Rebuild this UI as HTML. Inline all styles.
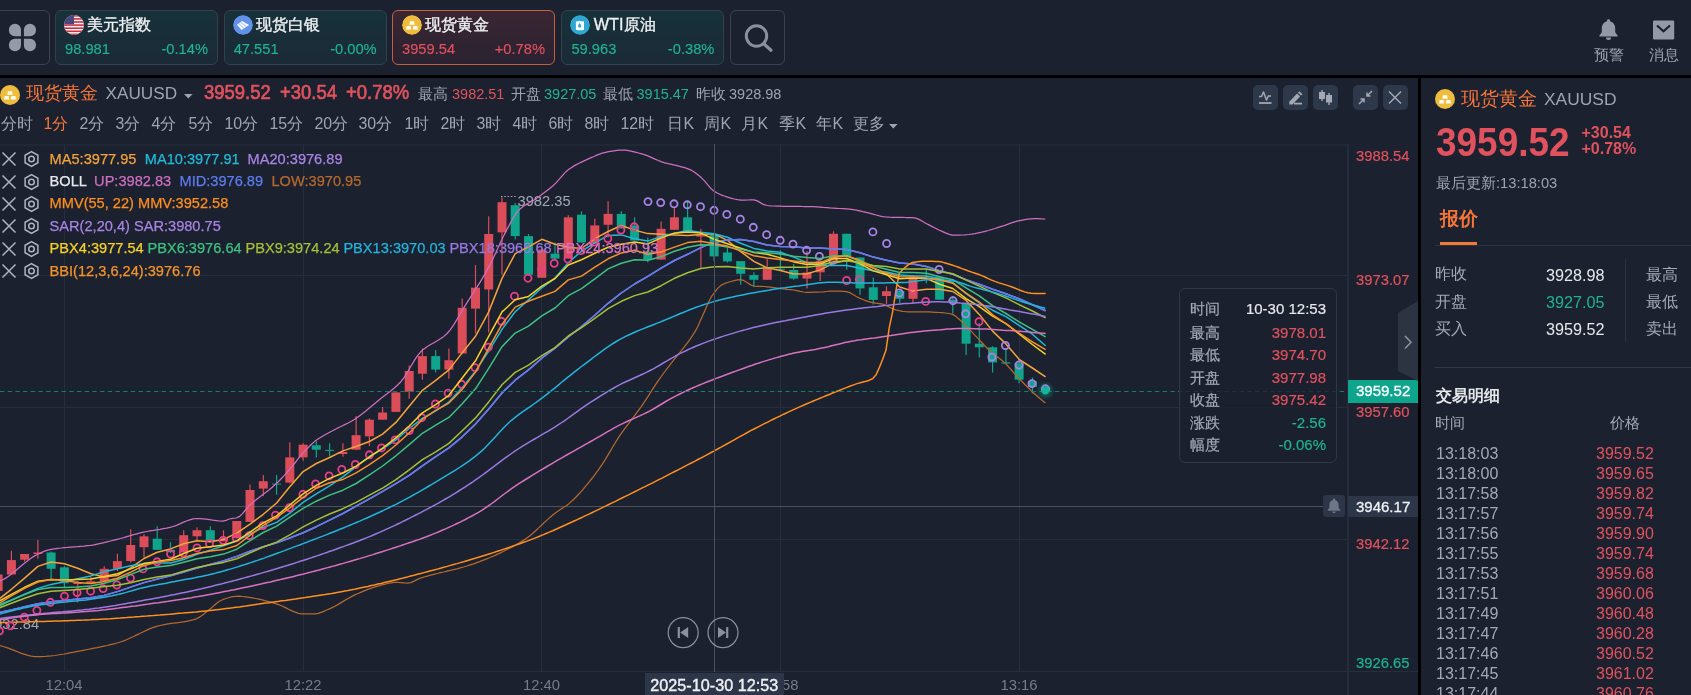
<!DOCTYPE html>
<html lang="zh"><head><meta charset="utf-8"><title>XAUUSD</title>
<style>
*{box-sizing:border-box;margin:0;padding:0}
html,body{width:1691px;height:695px;overflow:hidden;background:#1b212e}
body{font-family:"Liberation Sans",sans-serif;color:#9ea4b2;position:relative}
.a{position:absolute;white-space:nowrap}
.r{color:#e0525e}.g{color:#1fb393}.o{color:#f6763a}.w{color:#e6e8ec}.gy{color:#9ea4b2}
.top{left:0;top:0;width:1691px;height:75px;background:#1b212e}
.blk{background:#000}
.card{top:10px;width:163px;height:55px;border:1px solid #31424d;border-radius:6px;background:linear-gradient(180deg,#17313a 0%,#1b2a37 100%)}
.card.sel{border-color:#c4613c;background:linear-gradient(180deg,#3a2632 0%,#2a2231 100%)}
.card .t{left:31.3px;top:1px;height:24px;line-height:24px;font-size:16.3px;color:#eef0f3;-webkit-text-stroke:.35px}
.card .ic{left:8px;top:4px;width:20px;height:20px;border-radius:50%;overflow:hidden}
.card.sel .ic{left:9px}.card.sel .t{left:32px}
.card .v{left:9px;top:28px;height:20px;line-height:20px;font-size:14.7px;-webkit-text-stroke:.15px}
.card .p{right:9px;top:28px;height:20px;line-height:20px;font-size:14.7px;-webkit-text-stroke:.15px}
.btn{top:10px;height:55px;border:1px solid #3b4353;border-radius:6px}
.tf{top:113px;height:22px;line-height:22px;font-size:15.9px;color:#9ea4b2}
.tf.o{color:#f6763a}
.lg{height:22px;line-height:22px;font-size:14.6px;-webkit-text-stroke:.25px}
.ax{left:1356px;height:18px;line-height:18px;font-size:14.8px;-webkit-text-stroke:.2px}
.tl{top:676px;height:18px;line-height:18px;font-size:14.8px;color:#757c8c;transform:translateX(-50%)}
.tr{left:1436px;height:20px;line-height:20px;font-size:16px;color:#a4a9b6}
.tp{left:1596px;height:20px;line-height:20px;font-size:16px;color:#e0525e}
.tt{height:22px;line-height:22px;font-size:15px;-webkit-text-stroke:.2px}
#wrap{position:absolute;left:0;top:0;width:1691px;height:695px;will-change:transform}
</style></head><body><div id="wrap">
<div class="a blk" style="left:0;top:75px;width:1691px;height:3px"></div>
<div class="a blk" style="left:1418.2px;top:75px;width:2.6px;height:620px"></div>

<!-- top bar -->
<div class="a btn" style="left:-6px;width:56px"></div>
<svg class="a" style="left:0;top:0" width="50" height="70" viewBox="0 0 50 70"><g fill="#959aa7"><path d="M14.9 23.7 H15.0 A6.0 6.0 0 0 1 21.0 29.7 V36.3 A0.0 0.0 0 0 1 21.0 36.3 H14.9 A6.0 6.0 0 0 1 8.9 30.3 V29.7 A6.0 6.0 0 0 1 14.9 23.7 Z"/><path d="M29.9 23.7 H30.0 A6.0 6.0 0 0 1 36.0 29.7 V30.3 A6.0 6.0 0 0 1 30.0 36.3 H23.9 A0.0 0.0 0 0 1 23.9 36.3 V29.7 A6.0 6.0 0 0 1 29.9 23.7 Z"/><path d="M14.9 38.7 H21.0 A0.0 0.0 0 0 1 21.0 38.7 V45.3 A6.0 6.0 0 0 1 15.0 51.3 H14.9 A6.0 6.0 0 0 1 8.9 45.3 V44.7 A6.0 6.0 0 0 1 14.9 38.7 Z"/><path d="M23.9 38.7 H30.0 A6.0 6.0 0 0 1 36.0 44.7 V45.3 A6.0 6.0 0 0 1 30.0 51.3 H29.9 A6.0 6.0 0 0 1 23.9 45.3 V38.7 A0.0 0.0 0 0 1 23.9 38.7 Z"/></g></svg>

<div class="a card" style="left:55px">
 <div class="a ic"><svg width="20" height="20" viewBox="0 0 20 20"><rect width="20" height="20" fill="#f4f4f4"/><g fill="#cf2e44"><rect y="0" width="20" height="1.6"/><rect y="3.1" width="20" height="1.6"/><rect y="6.2" width="20" height="1.6"/><rect y="9.3" width="20" height="1.6"/><rect y="12.4" width="20" height="1.6"/><rect y="15.5" width="20" height="1.6"/><rect y="18.6" width="20" height="1.6"/></g><rect width="10" height="9.3" fill="#46487c"/></svg></div>
 <div class="a t">美元指数</div><div class="a v g">98.981</div><div class="a p g">-0.14%</div>
</div>
<div class="a card" style="left:223.7px">
 <div class="a ic"><svg width="20" height="20" viewBox="0 0 20 20"><circle cx="10" cy="10" r="10" fill="#6291e8"/><path d="M3.9 9.7L9.1 6.1l7.1 3.9-7.6 5z" fill="#f3f7ff"/><path d="M5.7 8.5l5.4 4.9M7.5 7.3l6.2 4.4" stroke="#8fb1ee" stroke-width=".8"/></svg></div>
 <div class="a t">现货白银</div><div class="a v g">47.551</div><div class="a p g">-0.00%</div>
</div>
<div class="a card sel" style="left:392px">
 <div class="a ic"><svg width="20" height="20" viewBox="0 0 20 20"><circle cx="10" cy="10" r="10" fill="#eebc3e"/><g fill="#fffdf0"><path d="M7.9 6.3h4.2l.6 3.5H7.3z"/><path d="M4.6 11.1h4l.6 3.3H4z"/><path d="M11.4 11.1h4l.6 3.3h-5.2z"/></g></svg></div>
 <div class="a t">现货黄金</div><div class="a v r">3959.54</div><div class="a p r">+0.78%</div>
</div>
<div class="a card" style="left:561.4px">
 <div class="a ic"><svg width="20" height="20" viewBox="0 0 20 20"><circle cx="10" cy="10" r="10" fill="#2ea8d0"/><path d="M5.9 6.5q4.05-1.1 8.1 0v8.2q-4.05 1.1-8.1 0z" fill="#fbfeff"/><path d="M9.7 7.9c1.1 1.5 1.6 2.3 1.6 3.2a1.6 1.6 0 0 1-3.2 0c0-.9.5-1.7 1.6-3.2z" fill="#2ea8d0"/></svg></div>
 <div class="a t">WTI原油</div><div class="a v g">59.963</div><div class="a p g">-0.38%</div>
</div>
<div class="a btn" style="left:730px;width:55px">
<svg class="a" style="left:11px;top:11px" width="32" height="32" viewBox="0 0 32 32"><circle cx="14.5" cy="14" r="10.2" fill="none" stroke="#8b909c" stroke-width="3"/><path d="M22 22l7 6.2" stroke="#8b909c" stroke-width="3.2" stroke-linecap="round"/></svg>
</div>

<!-- top right icons -->
<svg class="a" style="left:1596px;top:17px" width="25" height="25" viewBox="0 0 25 25"><path d="M12.5 2.2c-.9 0-1.6.7-1.6 1.6v.5C7.7 5.1 5.8 7.8 5.8 11v4.2L3.4 18.4v1h18.2v-1l-2.4-3.2V11c0-3.2-1.9-5.9-5.1-6.7v-.5c0-.9-.7-1.6-1.6-1.6z" fill="#9499a6"/><path d="M10 20.6a2.5 2.5 0 0 0 5 0z" fill="#9499a6"/></svg>
<div class="a gy" style="left:1594px;top:45px;height:20px;line-height:20px;font-size:14.6px">预警</div>
<svg class="a" style="left:1652px;top:19.7px" width="23" height="20" viewBox="0 0 23 20"><rect x="1" y=".5" width="21.2" height="19" rx="1.2" fill="#9499a6"/><path d="M5 5.5l6.5 5.8L18 5.5" fill="none" stroke="#1b212e" stroke-width="2.2"/></svg>
<div class="a gy" style="left:1649px;top:45px;height:20px;line-height:20px;font-size:14.6px">消息</div>

<!-- title row -->
<svg class="a" style="left:0;top:85px" width="20" height="20" viewBox="0 0 20 20"><circle cx="10" cy="10" r="10" fill="#eebc3e"/><g fill="#fffdf0"><path d="M7.9 6.3h4.2l.6 3.5H7.3z"/><path d="M4.6 11.1h4l.6 3.3H4z"/><path d="M11.4 11.1h4l.6 3.3h-5.2z"/></g></svg>
<div class="a o" style="left:25.5px;top:79.5px;height:26px;line-height:26px;font-size:18.3px">现货黄金</div>
<div class="a gy" style="left:105.5px;top:80px;height:26px;line-height:26px;font-size:17.2px">XAUUSD</div>
<svg class="a" style="left:183.5px;top:93.5px" width="9" height="6" viewBox="0 0 9 6"><path d="M0 0h8.6L4.3 4.6z" fill="#9ea4b2"/></svg>
<div class="a r" style="left:204px;top:79px;height:26px;line-height:26px;font-size:20.4px;-webkit-text-stroke:.7px;transform-origin:0 50%;transform:scaleX(.905)">3959.52</div>
<div class="a r" style="left:279.5px;top:79px;height:26px;line-height:26px;font-size:20.4px;-webkit-text-stroke:.7px;transform-origin:0 50%;transform:scaleX(.905)">+30.54</div>
<div class="a r" style="left:345.5px;top:79px;height:26px;line-height:26px;font-size:20.4px;-webkit-text-stroke:.7px;transform-origin:0 50%;transform:scaleX(.905)">+0.78%</div>
<div class="a gy" style="left:418px;top:83px;height:22px;line-height:22px;font-size:14.6px">最高</div>
<div class="a r" style="left:452px;top:83px;height:22px;line-height:22px;font-size:14.5px">3982.51</div>
<div class="a gy" style="left:510.5px;top:83px;height:22px;line-height:22px;font-size:14.6px">开盘</div>
<div class="a g" style="left:544px;top:83px;height:22px;line-height:22px;font-size:14.5px">3927.05</div>
<div class="a gy" style="left:603px;top:83px;height:22px;line-height:22px;font-size:14.6px">最低</div>
<div class="a g" style="left:636.5px;top:83px;height:22px;line-height:22px;font-size:14.5px">3915.47</div>
<div class="a gy" style="left:695.5px;top:83px;height:22px;line-height:22px;font-size:14.6px">昨收</div>
<div class="a gy" style="left:729px;top:83px;height:22px;line-height:22px;font-size:14.5px">3928.98</div>

<!-- toolbar buttons -->
<div class="a" style="left:1253px;top:85px;width:25px;height:25px;border-radius:5px;background:#2d384b"><svg width="24" height="25" viewBox="0 0 24 25"><path d="M6 11.5h2.5l2-4.5 3 8 1.8-4h2.7" fill="none" stroke="#a3a8b5" stroke-width="1.5" stroke-linejoin="round"/><path d="M6 18h12.5" stroke="#a3a8b5" stroke-width="1.8"/></svg></div>
<div class="a" style="left:1283px;top:85px;width:25px;height:25px;border-radius:5px;background:#2d384b"><svg width="24" height="25" viewBox="0 0 24 25"><path d="M6.3 16.8l7.8-8.2 3 2.9-7.6 7.9H6.3z" fill="#a3a8b5"/><path d="M15 7.7l1.4-1.4 3 2.9-1.4 1.4z" fill="#a3a8b5"/><path d="M11 18.6h8" stroke="#a3a8b5" stroke-width="1.8"/></svg></div>
<div class="a" style="left:1313px;top:85px;width:25px;height:25px;border-radius:5px;background:#2d384b"><svg width="24" height="25" viewBox="0 0 24 25"><g fill="#a3a8b5"><rect x="8.3" y="5" width="1.4" height="11"/><rect x="6" y="7" width="6" height="7"/><rect x="15.3" y="8" width="1.4" height="12"/><rect x="13" y="10" width="6" height="7.5"/></g></svg></div>
<div class="a" style="left:1353px;top:85px;width:25px;height:25px;border-radius:5px;background:#2d384b"><svg width="25" height="25" viewBox="0 0 25 25"><g stroke="#a3a8b5" stroke-width="1.5" fill="none"><path d="M19 6l-5 5M14 7.5V11h3.5"/><path d="M6 19l5-5M11 17.5V14H7.5"/></g></svg></div>
<div class="a" style="left:1383px;top:85px;width:25px;height:25px;border-radius:5px;background:#2d384b"><svg width="24" height="25" viewBox="0 0 24 25"><path d="M6 6.5l12 12M18 6.5l-12 12" stroke="#a3a8b5" stroke-width="1.5"/></svg></div>

<div class="a tf" style="left:0.9px">分时</div>
<div class="a tf o" style="left:43.4px">1分</div>
<div class="a tf" style="left:79.4px">2分</div>
<div class="a tf" style="left:115.4px">3分</div>
<div class="a tf" style="left:151.4px">4分</div>
<div class="a tf" style="left:188.4px">5分</div>
<div class="a tf" style="left:224.4px">10分</div>
<div class="a tf" style="left:269.4px">15分</div>
<div class="a tf" style="left:314.4px">20分</div>
<div class="a tf" style="left:358.4px">30分</div>
<div class="a tf" style="left:404.4px">1时</div>
<div class="a tf" style="left:440.4px">2时</div>
<div class="a tf" style="left:476.4px">3时</div>
<div class="a tf" style="left:512.4px">4时</div>
<div class="a tf" style="left:548.4px">6时</div>
<div class="a tf" style="left:584.4px">8时</div>
<div class="a tf" style="left:620.4px">12时</div>
<div class="a tf" style="left:667.4px">日K</div>
<div class="a tf" style="left:704.4px">周K</div>
<div class="a tf" style="left:741.4px">月K</div>
<div class="a tf" style="left:779.4px">季K</div>
<div class="a tf" style="left:816.4px">年K</div>
<div class="a tf" style="left:853.4px">更多</div>
<svg class="a" style="left:888.6px;top:124.2px" width="9" height="6" viewBox="0 0 9 6"><path d="M0 0h8.6L4.3 4.5z" fill="#9ea4b2"/></svg>
<svg class="chart" width="1418" height="552" viewBox="0 143 1418 552" style="position:absolute;left:0;top:143px">
<line x1="0" x2="1347" y1="145" y2="145" stroke="#262e3d" stroke-width="1"/>
<line x1="0" x2="1347" y1="275.5" y2="275.5" stroke="#262e3d" stroke-width="1"/>
<line x1="0" x2="1347" y1="407.5" y2="407.5" stroke="#262e3d" stroke-width="1"/>
<line x1="0" x2="1347" y1="539.5" y2="539.5" stroke="#262e3d" stroke-width="1"/>
<line x1="64.5" x2="64.5" y1="144" y2="672" stroke="#262e3d" stroke-width="1"/>
<line x1="303.5" x2="303.5" y1="144" y2="672" stroke="#262e3d" stroke-width="1"/>
<line x1="541.5" x2="541.5" y1="144" y2="672" stroke="#262e3d" stroke-width="1"/>
<line x1="780.5" x2="780.5" y1="144" y2="672" stroke="#262e3d" stroke-width="1"/>
<line x1="1019.5" x2="1019.5" y1="144" y2="672" stroke="#262e3d" stroke-width="1"/>
<line x1="0" x2="1418" y1="671.5" y2="671.5" stroke="#262e3d"/>
<line x1="1348" x2="1348" y1="144" y2="695" stroke="#263042" stroke-width="1.6"/>
<line x1="0" x2="1323" y1="506.5" y2="506.5" stroke="#4a5160"/>
<line x1="-1.9" x2="-1.9" y1="574.5" y2="619.8" stroke="#db4d58" stroke-width="1.2"/>
<rect x="-6.4" y="574.5" width="9" height="16.5" fill="#db4d58"/>
<line x1="11.4" x2="11.4" y1="550.8" y2="574.5" stroke="#db4d58" stroke-width="1.2"/>
<rect x="6.9" y="560.1" width="9" height="14.4" fill="#db4d58"/>
<line x1="24.6" x2="24.6" y1="554.0" y2="561.6" stroke="#db4d58" stroke-width="1.2"/>
<rect x="20.1" y="554.0" width="9" height="5.7" fill="#db4d58"/>
<line x1="37.9" x2="37.9" y1="540.0" y2="558.7" stroke="#db4d58" stroke-width="1.2"/>
<rect x="33.4" y="552.5" width="9" height="1.5" fill="#db4d58"/>
<line x1="51.1" x2="51.1" y1="551.4" y2="581.0" stroke="#0ea58c" stroke-width="1.2"/>
<rect x="46.6" y="552.5" width="9" height="16.3" fill="#0ea58c"/>
<line x1="64.4" x2="64.4" y1="566.0" y2="587.2" stroke="#0ea58c" stroke-width="1.2"/>
<rect x="59.9" y="567.3" width="9" height="15.9" fill="#0ea58c"/>
<line x1="77.7" x2="77.7" y1="581.0" y2="602.6" stroke="#db4d58" stroke-width="1.2"/>
<rect x="73.2" y="583.0" width="9" height="1.0" fill="#db4d58"/>
<line x1="90.9" x2="90.9" y1="576.7" y2="583.2" stroke="#db4d58" stroke-width="1.2"/>
<rect x="86.4" y="581.3" width="9" height="1.9" fill="#db4d58"/>
<line x1="104.2" x2="104.2" y1="566.2" y2="581.0" stroke="#db4d58" stroke-width="1.2"/>
<rect x="99.7" y="568.8" width="9" height="12.2" fill="#db4d58"/>
<line x1="117.4" x2="117.4" y1="553.7" y2="571.0" stroke="#db4d58" stroke-width="1.2"/>
<rect x="112.9" y="561.1" width="9" height="7.7" fill="#db4d58"/>
<line x1="130.7" x2="130.7" y1="529.2" y2="562.4" stroke="#db4d58" stroke-width="1.2"/>
<rect x="126.2" y="545.0" width="9" height="16.1" fill="#db4d58"/>
<line x1="144.0" x2="144.0" y1="534.2" y2="557.4" stroke="#db4d58" stroke-width="1.2"/>
<rect x="139.5" y="536.3" width="9" height="10.9" fill="#db4d58"/>
<line x1="157.2" x2="157.2" y1="526.2" y2="549.8" stroke="#0ea58c" stroke-width="1.2"/>
<rect x="152.7" y="538.7" width="9" height="11.1" fill="#0ea58c"/>
<line x1="170.5" x2="170.5" y1="542.2" y2="553.0" stroke="#0ea58c" stroke-width="1.2"/>
<rect x="166.0" y="549.8" width="9" height="2.4" fill="#0ea58c"/>
<line x1="183.7" x2="183.7" y1="530.2" y2="552.5" stroke="#db4d58" stroke-width="1.2"/>
<rect x="179.2" y="535.2" width="9" height="17.3" fill="#db4d58"/>
<line x1="197.0" x2="197.0" y1="527.2" y2="539.9" stroke="#db4d58" stroke-width="1.2"/>
<rect x="192.5" y="530.2" width="9" height="6.1" fill="#db4d58"/>
<line x1="210.3" x2="210.3" y1="526.2" y2="541.3" stroke="#0ea58c" stroke-width="1.2"/>
<rect x="205.8" y="530.2" width="9" height="11.1" fill="#0ea58c"/>
<line x1="223.5" x2="223.5" y1="530.2" y2="541.3" stroke="#db4d58" stroke-width="1.2"/>
<rect x="219.0" y="538.0" width="9" height="3.3" fill="#db4d58"/>
<line x1="236.8" x2="236.8" y1="521.0" y2="538.3" stroke="#db4d58" stroke-width="1.2"/>
<rect x="232.3" y="521.0" width="9" height="17.3" fill="#db4d58"/>
<line x1="250.0" x2="250.0" y1="484.6" y2="521.9" stroke="#db4d58" stroke-width="1.2"/>
<rect x="245.5" y="490.0" width="9" height="31.9" fill="#db4d58"/>
<line x1="263.3" x2="263.3" y1="474.9" y2="496.3" stroke="#db4d58" stroke-width="1.2"/>
<rect x="258.8" y="481.2" width="9" height="7.4" fill="#db4d58"/>
<line x1="276.6" x2="276.6" y1="474.9" y2="494.7" stroke="#0ea58c" stroke-width="1.2"/>
<rect x="272.1" y="483.6" width="9" height="1.0" fill="#0ea58c"/>
<line x1="289.8" x2="289.8" y1="442.3" y2="483.6" stroke="#db4d58" stroke-width="1.2"/>
<rect x="285.3" y="457.4" width="9" height="25.2" fill="#db4d58"/>
<line x1="303.1" x2="303.1" y1="443.3" y2="460.8" stroke="#db4d58" stroke-width="1.2"/>
<rect x="298.6" y="444.7" width="9" height="12.7" fill="#db4d58"/>
<line x1="316.3" x2="316.3" y1="441.3" y2="457.4" stroke="#0ea58c" stroke-width="1.2"/>
<rect x="311.8" y="445.3" width="9" height="4.4" fill="#0ea58c"/>
<line x1="329.6" x2="329.6" y1="443.3" y2="456.4" stroke="#0ea58c" stroke-width="1.2"/>
<rect x="325.1" y="449.9" width="9" height="1.0" fill="#0ea58c"/>
<line x1="342.9" x2="342.9" y1="443.3" y2="456.8" stroke="#db4d58" stroke-width="1.2"/>
<rect x="338.4" y="452.0" width="9" height="2.0" fill="#db4d58"/>
<line x1="356.1" x2="356.1" y1="416.1" y2="449.7" stroke="#db4d58" stroke-width="1.2"/>
<rect x="351.6" y="435.2" width="9" height="14.5" fill="#db4d58"/>
<line x1="369.4" x2="369.4" y1="418.5" y2="445.9" stroke="#db4d58" stroke-width="1.2"/>
<rect x="364.9" y="419.7" width="9" height="16.6" fill="#db4d58"/>
<line x1="382.6" x2="382.6" y1="406.9" y2="419.7" stroke="#db4d58" stroke-width="1.2"/>
<rect x="378.1" y="412.5" width="9" height="7.2" fill="#db4d58"/>
<line x1="395.9" x2="395.9" y1="392.4" y2="411.9" stroke="#db4d58" stroke-width="1.2"/>
<rect x="391.4" y="392.4" width="9" height="19.5" fill="#db4d58"/>
<line x1="409.2" x2="409.2" y1="365.6" y2="398.8" stroke="#db4d58" stroke-width="1.2"/>
<rect x="404.7" y="371.0" width="9" height="20.8" fill="#db4d58"/>
<line x1="422.4" x2="422.4" y1="348.5" y2="379.7" stroke="#db4d58" stroke-width="1.2"/>
<rect x="417.9" y="356.1" width="9" height="17.6" fill="#db4d58"/>
<line x1="435.7" x2="435.7" y1="350.1" y2="372.6" stroke="#0ea58c" stroke-width="1.2"/>
<rect x="431.2" y="356.1" width="9" height="13.5" fill="#0ea58c"/>
<line x1="448.9" x2="448.9" y1="348.5" y2="378.7" stroke="#db4d58" stroke-width="1.2"/>
<rect x="444.4" y="360.2" width="9" height="9.4" fill="#db4d58"/>
<line x1="462.2" x2="462.2" y1="298.5" y2="353.5" stroke="#db4d58" stroke-width="1.2"/>
<rect x="457.7" y="307.8" width="9" height="45.7" fill="#db4d58"/>
<line x1="475.5" x2="475.5" y1="265.1" y2="333.4" stroke="#db4d58" stroke-width="1.2"/>
<rect x="471.0" y="287.7" width="9" height="20.9" fill="#db4d58"/>
<line x1="488.7" x2="488.7" y1="216.3" y2="332.4" stroke="#db4d58" stroke-width="1.2"/>
<rect x="484.2" y="234.0" width="9" height="55.5" fill="#db4d58"/>
<line x1="502.0" x2="502.0" y1="197.2" y2="274.7" stroke="#db4d58" stroke-width="1.2"/>
<rect x="497.5" y="202.2" width="9" height="30.2" fill="#db4d58"/>
<line x1="515.2" x2="515.2" y1="203.0" y2="239.5" stroke="#0ea58c" stroke-width="1.2"/>
<rect x="510.7" y="205.2" width="9" height="30.9" fill="#0ea58c"/>
<line x1="528.5" x2="528.5" y1="234.0" y2="275.7" stroke="#0ea58c" stroke-width="1.2"/>
<rect x="524.0" y="236.1" width="9" height="38.6" fill="#0ea58c"/>
<line x1="541.8" x2="541.8" y1="248.5" y2="277.8" stroke="#db4d58" stroke-width="1.2"/>
<rect x="537.3" y="249.6" width="9" height="28.2" fill="#db4d58"/>
<line x1="555.0" x2="555.0" y1="242.5" y2="259.6" stroke="#0ea58c" stroke-width="1.2"/>
<rect x="550.5" y="253.6" width="9" height="5.0" fill="#0ea58c"/>
<line x1="568.3" x2="568.3" y1="215.3" y2="258.6" stroke="#db4d58" stroke-width="1.2"/>
<rect x="563.8" y="217.3" width="9" height="41.3" fill="#db4d58"/>
<line x1="581.5" x2="581.5" y1="211.3" y2="242.5" stroke="#0ea58c" stroke-width="1.2"/>
<rect x="577.0" y="214.7" width="9" height="27.8" fill="#0ea58c"/>
<line x1="594.8" x2="594.8" y1="218.7" y2="243.5" stroke="#db4d58" stroke-width="1.2"/>
<rect x="590.3" y="225.4" width="9" height="18.1" fill="#db4d58"/>
<line x1="608.1" x2="608.1" y1="201.2" y2="237.5" stroke="#db4d58" stroke-width="1.2"/>
<rect x="603.6" y="213.9" width="9" height="10.9" fill="#db4d58"/>
<line x1="621.3" x2="621.3" y1="211.3" y2="228.4" stroke="#0ea58c" stroke-width="1.2"/>
<rect x="616.8" y="213.9" width="9" height="14.5" fill="#0ea58c"/>
<line x1="634.6" x2="634.6" y1="217.3" y2="240.5" stroke="#0ea58c" stroke-width="1.2"/>
<rect x="630.1" y="225.4" width="9" height="15.1" fill="#0ea58c"/>
<line x1="647.8" x2="647.8" y1="237.5" y2="262.6" stroke="#0ea58c" stroke-width="1.2"/>
<rect x="643.3" y="251.6" width="9" height="8.0" fill="#0ea58c"/>
<line x1="661.1" x2="661.1" y1="221.4" y2="259.6" stroke="#db4d58" stroke-width="1.2"/>
<rect x="656.6" y="228.8" width="9" height="30.8" fill="#db4d58"/>
<line x1="674.4" x2="674.4" y1="208.3" y2="229.8" stroke="#db4d58" stroke-width="1.2"/>
<rect x="669.9" y="217.3" width="9" height="12.5" fill="#db4d58"/>
<line x1="687.6" x2="687.6" y1="201.2" y2="231.4" stroke="#0ea58c" stroke-width="1.2"/>
<rect x="683.1" y="217.3" width="9" height="14.1" fill="#0ea58c"/>
<line x1="700.9" x2="700.9" y1="228.8" y2="267.7" stroke="#db4d58" stroke-width="1.2"/>
<rect x="696.4" y="235.2" width="9" height="1.4" fill="#db4d58"/>
<line x1="714.1" x2="714.1" y1="234.3" y2="260.7" stroke="#0ea58c" stroke-width="1.2"/>
<rect x="709.6" y="234.6" width="9" height="21.8" fill="#0ea58c"/>
<line x1="727.4" x2="727.4" y1="247.4" y2="262.5" stroke="#0ea58c" stroke-width="1.2"/>
<rect x="722.9" y="252.5" width="9" height="8.9" fill="#0ea58c"/>
<line x1="740.7" x2="740.7" y1="261.1" y2="284.8" stroke="#0ea58c" stroke-width="1.2"/>
<rect x="736.2" y="261.1" width="9" height="12.7" fill="#0ea58c"/>
<line x1="753.9" x2="753.9" y1="272.3" y2="287.3" stroke="#0ea58c" stroke-width="1.2"/>
<rect x="749.4" y="275.0" width="9" height="4.8" fill="#0ea58c"/>
<line x1="767.2" x2="767.2" y1="258.9" y2="279.8" stroke="#db4d58" stroke-width="1.2"/>
<rect x="762.7" y="267.6" width="9" height="12.2" fill="#db4d58"/>
<line x1="780.4" x2="780.4" y1="250.3" y2="269.8" stroke="#0ea58c" stroke-width="1.2"/>
<rect x="775.9" y="268.8" width="9" height="1.0" fill="#0ea58c"/>
<line x1="793.7" x2="793.7" y1="264.0" y2="279.8" stroke="#0ea58c" stroke-width="1.2"/>
<rect x="789.2" y="270.0" width="9" height="8.6" fill="#0ea58c"/>
<line x1="807.0" x2="807.0" y1="251.0" y2="288.4" stroke="#db4d58" stroke-width="1.2"/>
<rect x="802.5" y="272.6" width="9" height="6.0" fill="#db4d58"/>
<line x1="820.2" x2="820.2" y1="261.1" y2="281.0" stroke="#db4d58" stroke-width="1.2"/>
<rect x="815.7" y="261.1" width="9" height="11.2" fill="#db4d58"/>
<line x1="833.5" x2="833.5" y1="231.3" y2="260.4" stroke="#db4d58" stroke-width="1.2"/>
<rect x="829.0" y="233.8" width="9" height="26.6" fill="#db4d58"/>
<line x1="846.7" x2="846.7" y1="233.8" y2="269.7" stroke="#0ea58c" stroke-width="1.2"/>
<rect x="842.2" y="233.8" width="9" height="23.0" fill="#0ea58c"/>
<line x1="860.0" x2="860.0" y1="257.5" y2="294.9" stroke="#0ea58c" stroke-width="1.2"/>
<rect x="855.5" y="257.5" width="9" height="30.9" fill="#0ea58c"/>
<line x1="873.3" x2="873.3" y1="277.6" y2="304.5" stroke="#0ea58c" stroke-width="1.2"/>
<rect x="868.8" y="287.3" width="9" height="12.6" fill="#0ea58c"/>
<line x1="886.5" x2="886.5" y1="286.3" y2="304.0" stroke="#db4d58" stroke-width="1.2"/>
<rect x="882.0" y="291.2" width="9" height="4.8" fill="#db4d58"/>
<line x1="899.8" x2="899.8" y1="289.9" y2="303.3" stroke="#0ea58c" stroke-width="1.2"/>
<rect x="895.3" y="291.0" width="9" height="7.8" fill="#0ea58c"/>
<line x1="913.0" x2="913.0" y1="275.0" y2="304.0" stroke="#db4d58" stroke-width="1.2"/>
<rect x="908.5" y="277.3" width="9" height="21.5" fill="#db4d58"/>
<line x1="926.3" x2="926.3" y1="268.8" y2="283.2" stroke="#0ea58c" stroke-width="1.2"/>
<rect x="921.8" y="278.0" width="9" height="1.0" fill="#0ea58c"/>
<line x1="939.6" x2="939.6" y1="276.0" y2="299.7" stroke="#0ea58c" stroke-width="1.2"/>
<rect x="935.1" y="277.4" width="9" height="22.3" fill="#0ea58c"/>
<line x1="952.8" x2="952.8" y1="296.0" y2="313.4" stroke="#0ea58c" stroke-width="1.2"/>
<rect x="948.3" y="299.7" width="9" height="2.8" fill="#0ea58c"/>
<line x1="966.1" x2="966.1" y1="303.0" y2="355.0" stroke="#0ea58c" stroke-width="1.2"/>
<rect x="961.6" y="303.5" width="9" height="40.2" fill="#0ea58c"/>
<line x1="979.3" x2="979.3" y1="323.0" y2="357.4" stroke="#0ea58c" stroke-width="1.2"/>
<rect x="974.8" y="343.7" width="9" height="3.6" fill="#0ea58c"/>
<line x1="992.6" x2="992.6" y1="346.3" y2="372.5" stroke="#0ea58c" stroke-width="1.2"/>
<rect x="988.1" y="347.3" width="9" height="15.1" fill="#0ea58c"/>
<line x1="1005.9" x2="1005.9" y1="348.8" y2="363.6" stroke="#0ea58c" stroke-width="1.2"/>
<rect x="1001.4" y="362.4" width="9" height="1.2" fill="#0ea58c"/>
<line x1="1019.1" x2="1019.1" y1="359.0" y2="383.3" stroke="#0ea58c" stroke-width="1.2"/>
<rect x="1014.6" y="363.2" width="9" height="16.5" fill="#0ea58c"/>
<line x1="1032.4" x2="1032.4" y1="377.5" y2="393.4" stroke="#0ea58c" stroke-width="1.2"/>
<rect x="1027.9" y="381.1" width="9" height="5.8" fill="#0ea58c"/>
<line x1="1045.6" x2="1045.6" y1="386.0" y2="393.0" stroke="#0ea58c" stroke-width="1.2"/>
<rect x="1041.1" y="387.0" width="9" height="5.1" fill="#0ea58c"/>
<text x="517.5" y="206" font-size="14.7" fill="#a4a9b6" font-family="Liberation Sans, sans-serif">3982.35</text>
<path d="M501 196.5h15" stroke="#a4a9b6" stroke-width="1.2" stroke-dasharray="1.5 1.8"/>
<text x="-14" y="629" font-size="14.7" fill="#a4a9b6" font-family="Liberation Sans, sans-serif">3932.84</text>
<path d="M-1.9 599.7 L11.4 589.3 L24.6 578.1 L37.9 566.4 L51.1 562.0 L64.4 563.7 L77.7 568.3 L90.9 573.8 L104.2 577.0 L117.4 575.5 L130.7 567.8 L144.0 558.5 L157.2 552.2 L170.5 548.9 L183.7 543.7 L197.0 540.7 L210.3 541.7 L223.5 539.4 L236.8 533.1 L250.0 524.1 L263.3 514.3 L276.6 503.0 L289.8 486.8 L303.1 471.6 L316.3 463.5 L329.6 457.5 L342.9 450.9 L356.1 446.5 L369.4 441.5 L382.6 434.1 L395.9 422.4 L409.2 406.2 L422.4 390.3 L435.7 380.3 L448.9 369.9 L462.2 352.9 L475.5 336.3 L488.7 311.9 L502.0 278.4 L515.2 253.6 L528.5 246.9 L541.8 239.3 L555.0 244.2 L568.3 247.3 L581.5 248.5 L594.8 238.7 L608.1 231.5 L621.3 225.5 L634.6 230.1 L647.8 233.6 L661.1 234.2 L674.4 234.9 L687.6 235.5 L700.9 234.5 L714.1 233.8 L727.4 240.3 L740.7 251.6 L753.9 261.3 L767.2 267.8 L780.4 270.5 L793.7 273.9 L807.0 273.7 L820.2 269.9 L833.5 263.2 L846.7 260.6 L860.0 262.5 L873.3 268.0 L886.5 274.0 L899.8 287.0 L913.0 291.1 L926.3 289.2 L939.6 289.2 L952.8 291.5 L966.1 300.4 L979.3 314.4 L992.6 331.1 L1005.9 343.9 L1019.1 359.3 L1032.4 368.0 L1045.6 376.9" fill="none" stroke="#f5a33c" stroke-width="1.5" stroke-linejoin="round" />
<path d="M-1.9 605.4 L11.4 600.0 L24.6 594.2 L37.9 588.4 L51.1 584.4 L64.4 581.7 L77.7 578.8 L90.9 575.9 L104.2 571.7 L117.4 568.7 L130.7 565.8 L144.0 563.4 L157.2 563.0 L170.5 563.0 L183.7 559.6 L197.0 554.3 L210.3 550.1 L223.5 545.8 L236.8 541.0 L250.0 533.9 L263.3 527.5 L276.6 522.4 L289.8 513.1 L303.1 502.4 L316.3 493.8 L329.6 485.9 L342.9 476.9 L356.1 466.7 L369.4 456.5 L382.6 448.8 L395.9 439.9 L409.2 428.5 L422.4 418.4 L435.7 410.9 L448.9 402.0 L462.2 387.6 L475.5 371.2 L488.7 351.1 L502.0 329.4 L515.2 311.7 L528.5 299.9 L541.8 287.8 L555.0 278.1 L568.3 262.8 L581.5 251.1 L594.8 242.8 L608.1 235.4 L621.3 234.9 L634.6 238.7 L647.8 241.1 L661.1 236.5 L674.4 233.2 L687.6 230.5 L700.9 232.3 L714.1 233.7 L727.4 237.3 L740.7 243.3 L753.9 248.4 L767.2 251.1 L780.4 252.2 L793.7 257.1 L807.0 262.7 L820.2 265.6 L833.5 265.5 L846.7 265.5 L860.0 268.2 L873.3 270.8 L886.5 272.0 L899.8 275.1 L913.0 275.9 L926.3 275.9 L939.6 278.6 L952.8 282.7 L966.1 293.7 L979.3 302.8 L992.6 310.2 L1005.9 316.6 L1019.1 325.4 L1032.4 334.2 L1045.6 345.7" fill="none" stroke="#1fbbd9" stroke-width="1.5" stroke-linejoin="round" />
<path d="M-1.9 612.6 L11.4 609.9 L24.6 606.8 L37.9 603.8 L51.1 601.8 L64.4 600.5 L77.7 599.1 L90.9 597.7 L104.2 595.4 L117.4 591.6 L130.7 587.1 L144.0 582.6 L157.2 579.1 L170.5 575.8 L183.7 572.0 L197.0 568.0 L210.3 564.5 L223.5 560.9 L236.8 556.4 L250.0 551.3 L263.3 546.7 L276.6 542.9 L289.8 538.0 L303.1 532.7 L316.3 526.7 L329.6 520.1 L342.9 513.5 L356.1 506.2 L369.4 498.8 L382.6 491.3 L395.9 483.7 L409.2 475.4 L422.4 465.8 L435.7 456.6 L448.9 447.9 L462.2 436.8 L475.5 424.1 L488.7 408.9 L502.0 392.9 L515.2 380.2 L528.5 369.9 L541.8 358.2 L555.0 348.2 L568.3 336.9 L581.5 326.5 L594.8 315.2 L608.1 303.3 L621.3 293.0 L634.6 284.0 L647.8 276.4 L661.1 268.2 L674.4 260.5 L687.6 254.3 L700.9 247.6 L714.1 242.4 L727.4 240.0 L740.7 239.4 L753.9 241.6 L767.2 244.9 L780.4 246.6 L793.7 246.8 L807.0 247.9 L820.2 248.1 L833.5 248.9 L846.7 249.6 L860.0 252.8 L873.3 257.1 L886.5 260.2 L899.8 263.1 L913.0 264.0 L926.3 266.5 L939.6 270.6 L952.8 274.2 L966.1 279.6 L979.3 284.2 L992.6 289.2 L1005.9 293.7 L1019.1 298.7 L1032.4 304.7 L1045.6 310.8" fill="none" stroke="#a884e4" stroke-width="1.5" stroke-linejoin="round" />
<path d="M-5.0 582.5 L-1.7 581.6 L1.6 580.3 L4.9 578.6 L8.2 576.5 L11.5 574.0 L14.8 571.4 L18.1 568.6 L21.4 565.8 L24.7 563.0 L28.0 560.4 L31.3 558.0 L34.6 555.9 L37.9 554.2 L41.2 552.6 L44.5 551.2 L47.8 550.1 L51.1 549.3 L54.4 548.8 L57.7 548.3 L61.0 548.0 L64.3 547.6 L67.6 547.4 L70.9 547.1 L74.2 546.9 L77.5 546.7 L80.8 546.4 L84.1 546.1 L87.4 545.7 L90.7 545.3 L94.0 544.8 L97.3 544.1 L100.6 543.4 L103.9 542.6 L107.2 541.8 L110.5 541.0 L113.8 540.2 L117.1 539.3 L120.4 538.5 L123.7 537.6 L127.0 536.6 L130.3 535.7 L133.6 534.7 L136.9 533.8 L140.2 532.9 L143.5 532.2 L146.8 531.5 L150.1 530.9 L153.4 530.4 L156.7 529.8 L160.0 529.3 L163.3 528.7 L166.6 528.1 L169.9 527.4 L173.2 526.5 L176.5 525.3 L179.8 523.9 L183.1 522.4 L186.4 521.0 L189.7 519.8 L193.0 518.9 L196.3 518.5 L199.6 518.6 L202.9 518.8 L206.2 519.2 L209.5 519.7 L212.8 520.2 L216.1 520.6 L219.4 521.0 L222.7 521.1 L226.0 520.4 L229.3 519.0 L232.6 518.4 L235.9 518.0 L239.2 516.7 L242.5 513.6 L245.8 509.5 L249.1 505.7 L252.4 502.7 L255.7 500.0 L259.0 497.4 L262.3 494.9 L265.6 492.4 L268.9 489.9 L272.2 487.2 L275.5 484.3 L278.8 481.2 L282.1 477.8 L285.4 474.2 L288.7 470.4 L292.0 466.6 L295.3 462.5 L298.6 458.2 L301.9 454.2 L305.2 450.6 L308.5 447.2 L311.8 444.0 L315.1 441.1 L318.4 438.8 L321.7 436.7 L325.0 434.8 L328.3 433.0 L331.6 431.2 L334.9 429.5 L338.2 427.8 L341.5 426.2 L344.8 424.6 L348.1 423.0 L351.4 421.2 L354.7 419.2 L358.0 417.0 L361.3 414.6 L364.6 412.0 L367.9 409.3 L371.2 406.5 L374.5 403.7 L377.8 401.0 L381.1 398.3 L384.4 395.8 L387.7 393.3 L391.0 390.8 L394.3 388.0 L397.6 385.0 L400.9 381.7 L404.2 377.4 L407.5 372.2 L410.8 366.5 L414.1 360.9 L417.4 355.8 L420.7 351.8 L424.0 348.9 L427.3 346.5 L430.6 344.5 L433.9 342.7 L437.2 340.8 L440.5 338.8 L443.8 336.4 L447.1 333.5 L450.4 329.7 L453.7 324.9 L457.0 319.4 L460.3 313.7 L463.6 308.1 L466.9 302.8 L470.2 297.6 L473.5 292.5 L476.8 287.3 L480.1 282.1 L483.4 276.6 L486.7 270.9 L490.0 264.8 L493.3 258.1 L496.6 251.0 L499.9 243.8 L503.2 236.8 L506.5 230.4 L509.8 224.1 L513.1 218.0 L516.4 212.8 L519.7 209.2 L523.0 206.5 L526.3 204.4 L529.6 202.5 L532.9 200.7 L536.2 198.6 L539.5 196.2 L542.8 193.8 L546.1 191.3 L549.4 188.7 L552.7 186.0 L556.0 182.9 L559.3 179.2 L562.6 175.3 L565.9 171.7 L569.2 169.1 L572.5 166.9 L575.8 164.9 L579.1 163.2 L582.4 161.6 L585.7 160.1 L589.0 158.6 L592.3 157.2 L595.6 155.7 L598.9 154.3 L602.2 153.2 L605.5 152.3 L608.8 151.6 L612.1 151.1 L615.4 150.6 L618.7 150.2 L622.0 150.1 L625.3 150.2 L628.6 150.6 L631.9 151.3 L635.2 152.1 L638.5 153.0 L641.8 153.9 L645.1 154.9 L648.4 156.1 L651.7 157.6 L655.0 159.1 L658.3 160.5 L661.6 161.8 L664.9 162.8 L668.2 163.7 L671.5 164.4 L674.8 165.2 L678.1 165.9 L681.4 166.8 L684.7 167.7 L688.0 168.8 L691.3 170.2 L694.6 172.2 L697.9 174.8 L701.2 177.6 L704.5 180.9 L707.8 184.9 L711.1 188.7 L714.4 191.4 L717.7 193.2 L721.0 194.8 L724.3 196.0 L727.6 197.1 L730.9 198.1 L734.2 199.0 L737.5 199.7 L740.8 200.2 L744.1 200.2 L747.4 200.0 L750.7 199.8 L754.0 199.8 L757.3 200.9 L760.6 202.9 L763.9 204.7 L767.2 205.5 L770.5 205.8 L773.8 206.0 L777.1 206.1 L780.4 206.2 L783.7 206.3 L787.0 206.3 L790.3 206.4 L793.6 206.4 L796.9 206.4 L800.2 206.4 L803.5 206.5 L806.8 206.5 L810.1 206.6 L813.4 206.7 L816.7 206.9 L820.0 207.1 L823.3 207.4 L826.6 207.6 L829.9 207.9 L833.2 208.1 L836.5 208.3 L839.8 208.5 L843.1 208.7 L846.4 208.9 L849.7 209.2 L853.0 209.6 L856.3 210.2 L859.6 210.9 L862.9 211.7 L866.2 212.4 L869.5 213.2 L872.8 214.1 L876.1 215.0 L879.4 215.9 L882.7 216.6 L886.0 217.0 L889.3 217.2 L892.6 217.3 L895.9 217.3 L899.2 217.4 L902.5 217.4 L905.8 217.5 L909.1 217.5 L912.4 217.7 L915.7 218.1 L919.0 219.4 L922.3 221.3 L925.6 223.2 L928.9 224.9 L932.2 226.6 L935.5 228.3 L938.8 230.0 L942.1 231.4 L945.4 232.9 L948.7 234.2 L952.0 235.1 L955.3 235.2 L958.6 235.1 L961.9 235.0 L965.2 234.8 L968.5 234.5 L971.8 234.1 L975.1 233.6 L978.4 232.9 L981.7 232.2 L985.0 231.4 L988.3 230.5 L991.6 229.5 L994.9 228.5 L998.2 227.4 L1001.5 226.4 L1004.8 225.3 L1008.1 224.1 L1011.4 222.9 L1014.7 221.8 L1018.0 220.9 L1021.3 220.3 L1024.6 219.7 L1027.9 219.2 L1031.2 218.8 L1034.5 218.7 L1037.8 218.7 L1041.1 218.8 L1044.4 219.0 L1045.3 219.1" fill="none" stroke="#cf6fc1" stroke-width="1.25" stroke-linejoin="round" />
<path d="M-1.9 612.6 L11.4 609.9 L24.6 606.8 L37.9 603.8 L51.1 601.8 L64.4 600.5 L77.7 599.1 L90.9 597.7 L104.2 595.4 L117.4 591.6 L130.7 587.1 L144.0 582.6 L157.2 579.1 L170.5 575.8 L183.7 572.0 L197.0 568.0 L210.3 564.5 L223.5 560.9 L236.8 556.4 L250.0 551.3 L263.3 546.7 L276.6 542.9 L289.8 538.0 L303.1 532.7 L316.3 526.7 L329.6 520.1 L342.9 513.5 L356.1 506.2 L369.4 498.8 L382.6 491.3 L395.9 483.7 L409.2 475.4 L422.4 465.8 L435.7 456.6 L448.9 447.9 L462.2 436.8 L475.5 424.1 L488.7 408.9 L502.0 392.9 L515.2 380.2 L528.5 369.9 L541.8 358.2 L555.0 348.2 L568.3 336.9 L581.5 326.5 L594.8 315.2 L608.1 303.3 L621.3 293.0 L634.6 284.0 L647.8 276.4 L661.1 268.2 L674.4 260.5 L687.6 254.3 L700.9 247.6 L714.1 242.4 L727.4 240.0 L740.7 239.4 L753.9 241.6 L767.2 244.9 L780.4 246.6 L793.7 246.8 L807.0 247.9 L820.2 248.1 L833.5 248.9 L846.7 249.6 L860.0 252.8 L873.3 257.1 L886.5 260.2 L899.8 263.1 L913.0 264.0 L926.3 266.5 L939.6 270.6 L952.8 274.2 L966.1 279.6 L979.3 284.2 L992.6 289.2 L1005.9 293.7 L1019.1 298.7 L1032.4 304.7 L1045.6 310.8" fill="none" stroke="#5d7df0" stroke-width="1.5" stroke-linejoin="round" />
<path d="M-5.0 644.5 L-1.7 645.2 L1.6 646.0 L4.9 647.0 L8.2 648.2 L11.5 649.4 L14.8 650.7 L18.1 652.0 L21.4 653.3 L24.7 654.4 L28.0 655.3 L31.3 656.1 L34.6 656.6 L37.9 656.7 L41.2 656.6 L44.5 656.5 L47.8 656.2 L51.1 655.9 L54.4 655.5 L57.7 655.0 L61.0 654.5 L64.3 654.0 L67.6 653.4 L70.9 652.7 L74.2 652.1 L77.5 651.4 L80.8 650.8 L84.1 650.1 L87.4 649.5 L90.7 648.9 L94.0 648.2 L97.3 647.6 L100.6 646.9 L103.9 646.2 L107.2 645.5 L110.5 644.7 L113.8 643.9 L117.1 643.0 L120.4 642.0 L123.7 640.8 L127.0 639.5 L130.3 638.0 L133.6 636.5 L136.9 634.9 L140.2 633.3 L143.5 631.7 L146.8 630.1 L150.1 628.7 L153.4 627.4 L156.7 626.4 L160.0 625.5 L163.3 624.8 L166.6 624.2 L169.9 623.7 L173.2 623.2 L176.5 622.8 L179.8 622.4 L183.1 621.9 L186.4 621.3 L189.7 620.6 L193.0 619.8 L196.3 618.8 L199.6 617.1 L202.9 614.7 L206.2 612.0 L209.5 609.4 L212.8 606.7 L216.1 603.8 L219.4 601.3 L222.7 599.7 L226.0 598.5 L229.3 597.5 L232.6 596.7 L235.9 596.3 L239.2 596.2 L242.5 596.5 L245.8 596.9 L249.1 597.4 L252.4 597.9 L255.7 598.5 L259.0 599.2 L262.3 599.9 L265.6 600.8 L268.9 601.7 L272.2 602.6 L275.5 603.6 L278.8 604.7 L282.1 606.0 L285.4 607.6 L288.7 609.3 L292.0 610.9 L295.3 612.2 L298.6 613.3 L301.9 613.8 L305.2 613.8 L308.5 613.8 L311.8 613.8 L315.1 613.8 L318.4 613.3 L321.7 612.2 L325.0 610.8 L328.3 609.3 L331.6 607.9 L334.9 606.2 L338.2 604.4 L341.5 602.4 L344.8 600.4 L348.1 598.5 L351.4 596.6 L354.7 594.9 L358.0 593.5 L361.3 592.1 L364.6 590.7 L367.9 589.4 L371.2 588.2 L374.5 587.1 L377.8 586.1 L381.1 585.2 L384.4 584.3 L387.7 583.5 L391.0 582.8 L394.3 582.4 L397.6 582.3 L400.9 582.6 L404.2 582.9 L407.5 583.1 L410.8 582.6 L414.1 581.1 L417.4 579.4 L420.7 578.1 L424.0 577.0 L427.3 576.1 L430.6 575.2 L433.9 574.3 L437.2 573.5 L440.5 572.7 L443.8 572.0 L447.1 571.2 L450.4 570.4 L453.7 569.6 L457.0 568.8 L460.3 567.9 L463.6 567.0 L466.9 566.0 L470.2 564.9 L473.5 563.8 L476.8 562.6 L480.1 561.4 L483.4 560.1 L486.7 558.8 L490.0 557.5 L493.3 556.1 L496.6 554.6 L499.9 553.1 L503.2 551.5 L506.5 549.8 L509.8 548.1 L513.1 546.4 L516.4 544.5 L519.7 542.6 L523.0 540.6 L526.3 538.5 L529.6 536.0 L532.9 533.2 L536.2 530.2 L539.5 527.1 L542.8 524.0 L546.1 520.9 L549.4 517.9 L552.7 515.1 L556.0 512.5 L559.3 510.3 L562.6 508.1 L565.9 505.9 L569.2 503.4 L572.5 500.5 L575.8 497.3 L579.1 493.8 L582.4 490.1 L585.7 486.2 L589.0 482.2 L592.3 478.0 L595.6 473.6 L598.9 469.2 L602.2 464.3 L605.5 459.1 L608.8 453.6 L612.1 448.0 L615.4 442.5 L618.7 437.2 L622.0 432.4 L625.3 427.9 L628.6 423.5 L631.9 419.2 L635.2 414.9 L638.5 410.4 L641.8 405.8 L645.1 400.9 L648.4 395.8 L651.7 390.7 L655.0 385.7 L658.3 380.7 L661.6 376.0 L664.9 371.5 L668.2 367.2 L671.5 362.9 L674.8 358.7 L678.1 354.6 L681.4 350.6 L684.7 346.4 L688.0 342.0 L691.3 337.4 L694.6 332.4 L697.9 326.2 L701.2 318.7 L704.5 311.4 L707.8 303.8 L711.1 297.2 L714.4 292.5 L717.7 288.4 L721.0 285.4 L724.3 283.7 L727.6 282.5 L730.9 281.5 L734.2 280.6 L737.5 279.9 L740.8 279.6 L744.1 280.7 L747.4 282.8 L750.7 284.9 L754.0 286.0 L757.3 286.3 L760.6 286.4 L763.9 286.5 L767.2 286.8 L770.5 287.1 L773.8 287.6 L777.1 288.1 L780.4 288.6 L783.7 288.9 L787.0 289.3 L790.3 289.6 L793.6 290.0 L796.9 290.7 L800.2 291.4 L803.5 292.0 L806.8 292.3 L810.1 292.3 L813.4 292.2 L816.7 292.1 L820.0 292.0 L823.3 291.8 L826.6 291.5 L829.9 291.2 L833.2 291.0 L836.5 291.0 L839.8 291.2 L843.1 291.4 L846.4 291.7 L849.7 292.6 L853.0 294.5 L856.3 296.5 L859.6 298.1 L862.9 299.5 L866.2 300.8 L869.5 301.9 L872.8 302.7 L876.1 303.2 L879.4 303.6 L882.7 304.2 L886.0 305.4 L889.3 307.1 L892.6 308.7 L895.9 309.8 L899.2 310.6 L902.5 311.3 L905.8 311.7 L909.1 311.9 L912.4 311.9 L915.7 311.9 L919.0 311.9 L922.3 311.9 L925.6 311.9 L928.9 311.9 L932.2 312.1 L935.5 312.3 L938.8 312.5 L942.1 312.7 L945.4 313.0 L948.7 313.5 L952.0 314.1 L955.3 315.9 L958.6 318.8 L961.9 321.7 L965.2 325.0 L968.5 328.4 L971.8 331.9 L975.1 335.4 L978.4 338.9 L981.7 342.5 L985.0 346.0 L988.3 349.3 L991.6 352.2 L994.9 354.9 L998.2 357.4 L1001.5 360.0 L1004.8 362.9 L1008.1 366.3 L1011.4 370.0 L1014.7 373.8 L1018.0 377.4 L1021.3 380.8 L1024.6 384.2 L1027.9 387.5 L1031.2 390.7 L1034.5 393.7 L1037.8 396.7 L1041.1 399.5 L1044.4 402.3 L1045.4 403.1" fill="none" stroke="#b4692f" stroke-width="1.25" stroke-linejoin="round" />
<path d="M-5.0 622.9 L-1.7 622.8 L1.6 622.6 L4.9 622.5 L8.2 622.4 L11.5 622.3 L14.8 622.2 L18.1 622.1 L21.4 622.0 L24.7 621.9 L28.0 621.8 L31.3 621.7 L34.6 621.6 L37.9 621.5 L41.2 621.5 L44.5 621.4 L47.8 621.3 L51.1 621.2 L54.4 621.1 L57.7 621.0 L61.0 620.9 L64.3 620.8 L67.6 620.7 L70.9 620.6 L74.2 620.5 L77.5 620.3 L80.8 620.2 L84.1 620.1 L87.4 619.9 L90.7 619.8 L94.0 619.6 L97.3 619.5 L100.6 619.3 L103.9 619.1 L107.2 618.9 L110.5 618.7 L113.8 618.4 L117.1 618.2 L120.4 618.0 L123.7 617.7 L127.0 617.5 L130.3 617.2 L133.6 617.0 L136.9 616.7 L140.2 616.5 L143.5 616.2 L146.8 616.0 L150.1 615.7 L153.4 615.5 L156.7 615.2 L160.0 615.0 L163.3 614.7 L166.6 614.4 L169.9 614.2 L173.2 613.9 L176.5 613.6 L179.8 613.3 L183.1 613.1 L186.4 612.8 L189.7 612.5 L193.0 612.2 L196.3 611.9 L199.6 611.5 L202.9 611.2 L206.2 610.9 L209.5 610.6 L212.8 610.2 L216.1 609.8 L219.4 609.4 L222.7 609.0 L226.0 608.6 L229.3 608.2 L232.6 607.8 L235.9 607.3 L239.2 606.9 L242.5 606.4 L245.8 606.0 L249.1 605.5 L252.4 605.0 L255.7 604.5 L259.0 604.1 L262.3 603.6 L265.6 603.1 L268.9 602.7 L272.2 602.2 L275.5 601.7 L278.8 601.3 L282.1 600.8 L285.4 600.4 L288.7 599.9 L292.0 599.4 L295.3 599.0 L298.6 598.5 L301.9 598.0 L305.2 597.6 L308.5 597.1 L311.8 596.6 L315.1 596.1 L318.4 595.6 L321.7 595.1 L325.0 594.6 L328.3 594.0 L331.6 593.5 L334.9 592.9 L338.2 592.3 L341.5 591.7 L344.8 591.1 L348.1 590.5 L351.4 589.8 L354.7 589.2 L358.0 588.5 L361.3 587.8 L364.6 587.1 L367.9 586.4 L371.2 585.6 L374.5 584.9 L377.8 584.1 L381.1 583.4 L384.4 582.6 L387.7 581.8 L391.0 581.0 L394.3 580.2 L397.6 579.4 L400.9 578.6 L404.2 577.7 L407.5 576.9 L410.8 576.0 L414.1 575.2 L417.4 574.3 L420.7 573.5 L424.0 572.6 L427.3 571.7 L430.6 570.8 L433.9 570.0 L437.2 569.1 L440.5 568.2 L443.8 567.3 L447.1 566.4 L450.4 565.4 L453.7 564.5 L457.0 563.6 L460.3 562.6 L463.6 561.7 L466.9 560.7 L470.2 559.7 L473.5 558.7 L476.8 557.8 L480.1 556.7 L483.4 555.7 L486.7 554.7 L490.0 553.7 L493.3 552.6 L496.6 551.5 L499.9 550.5 L503.2 549.4 L506.5 548.3 L509.8 547.1 L513.1 546.0 L516.4 544.9 L519.7 543.7 L523.0 542.5 L526.3 541.4 L529.6 540.1 L532.9 538.9 L536.2 537.6 L539.5 536.3 L542.8 534.9 L546.1 533.5 L549.4 532.1 L552.7 530.7 L556.0 529.2 L559.3 527.7 L562.6 526.2 L565.9 524.8 L569.2 523.3 L572.5 521.8 L575.8 520.3 L579.1 518.7 L582.4 517.2 L585.7 515.6 L589.0 514.1 L592.3 512.5 L595.6 510.9 L598.9 509.3 L602.2 507.7 L605.5 506.1 L608.8 504.5 L612.1 502.9 L615.4 501.3 L618.7 499.6 L622.0 498.0 L625.3 496.4 L628.6 494.8 L631.9 493.1 L635.2 491.5 L638.5 489.9 L641.8 488.2 L645.1 486.6 L648.4 484.9 L651.7 483.3 L655.0 481.6 L658.3 479.9 L661.6 478.3 L664.9 476.6 L668.2 474.9 L671.5 473.2 L674.8 471.5 L678.1 469.8 L681.4 468.1 L684.7 466.4 L688.0 464.7 L691.3 463.0 L694.6 461.3 L697.9 459.5 L701.2 457.8 L704.5 456.1 L707.8 454.3 L711.1 452.5 L714.4 450.8 L717.7 449.0 L721.0 447.2 L724.3 445.3 L727.6 443.5 L730.9 441.6 L734.2 439.8 L737.5 437.9 L740.8 436.1 L744.1 434.3 L747.4 432.5 L750.7 430.7 L754.0 429.0 L757.3 427.3 L760.6 425.6 L763.9 423.9 L767.2 422.3 L770.5 420.6 L773.8 419.0 L777.1 417.4 L780.4 415.8 L783.7 414.2 L787.0 412.7 L790.3 411.1 L793.6 409.6 L796.9 408.1 L800.2 406.6 L803.5 405.2 L806.8 403.8 L810.1 402.4 L813.4 401.0 L816.7 399.6 L820.0 398.2 L823.3 396.9 L826.6 395.5 L829.9 394.2 L833.2 392.8 L836.5 391.5 L839.8 390.2 L843.1 388.9 L846.4 387.6 L849.7 386.3 L853.0 385.1 L856.3 383.9 L859.6 382.9 L862.9 382.1 L866.2 381.3 L869.5 380.2 L872.8 378.5 L876.1 374.7 L879.4 367.4 L882.7 359.2 L886.0 350.1 L889.3 327.4 L892.6 311.9 L895.9 290.8 L899.2 273.5 L902.5 269.7 L905.8 266.9 L909.1 264.2 L912.4 262.5 L915.7 261.9 L919.0 261.5 L922.3 261.3 L925.6 261.2 L928.9 261.2 L932.2 261.3 L935.5 261.4 L938.8 261.6 L942.1 262.1 L945.4 263.0 L948.7 264.0 L952.0 265.0 L955.3 266.1 L958.6 267.3 L961.9 268.6 L965.2 269.8 L968.5 271.0 L971.8 272.1 L975.1 273.2 L978.4 274.3 L981.7 275.6 L985.0 277.0 L988.3 278.6 L991.6 280.1 L994.9 281.4 L998.2 282.6 L1001.5 283.6 L1004.8 284.6 L1008.1 285.6 L1011.4 286.7 L1014.7 288.0 L1018.0 289.4 L1021.3 290.8 L1024.6 291.9 L1027.9 292.8 L1031.2 293.2 L1034.5 293.4 L1037.8 293.5 L1041.1 293.6 L1044.4 293.6 L1045.7 293.6" fill="none" stroke="#ff8f1f" stroke-width="1.5" stroke-linejoin="round" />
<circle cx="-0.6" cy="631.0" r="3.55" fill="none" stroke="#e83e8c" stroke-width="1.8"/>
<circle cx="10.5" cy="625.9" r="3.55" fill="none" stroke="#e83e8c" stroke-width="1.8"/>
<circle cx="24.2" cy="617.2" r="3.55" fill="none" stroke="#e83e8c" stroke-width="1.8"/>
<circle cx="36.9" cy="610.4" r="3.55" fill="none" stroke="#e83e8c" stroke-width="1.8"/>
<circle cx="50.4" cy="602.3" r="3.55" fill="none" stroke="#e83e8c" stroke-width="1.8"/>
<circle cx="64.5" cy="596.1" r="3.55" fill="none" stroke="#e83e8c" stroke-width="1.8"/>
<circle cx="77.1" cy="592.6" r="3.55" fill="none" stroke="#e83e8c" stroke-width="1.8"/>
<circle cx="90.6" cy="591.2" r="3.55" fill="none" stroke="#e83e8c" stroke-width="1.8"/>
<circle cx="103.1" cy="588.6" r="3.55" fill="none" stroke="#e83e8c" stroke-width="1.8"/>
<circle cx="116.8" cy="585.0" r="3.55" fill="none" stroke="#e83e8c" stroke-width="1.8"/>
<circle cx="130.5" cy="578.1" r="3.55" fill="none" stroke="#e83e8c" stroke-width="1.8"/>
<circle cx="143.0" cy="568.9" r="3.55" fill="none" stroke="#e83e8c" stroke-width="1.8"/>
<circle cx="157.1" cy="561.8" r="3.55" fill="none" stroke="#e83e8c" stroke-width="1.8"/>
<circle cx="170.6" cy="554.0" r="3.55" fill="none" stroke="#e83e8c" stroke-width="1.8"/>
<circle cx="183.3" cy="552.8" r="3.55" fill="none" stroke="#e83e8c" stroke-width="1.8"/>
<circle cx="197.0" cy="547.9" r="3.55" fill="none" stroke="#e83e8c" stroke-width="1.8"/>
<circle cx="209.5" cy="543.7" r="3.55" fill="none" stroke="#e83e8c" stroke-width="1.8"/>
<circle cx="223.2" cy="540.3" r="3.55" fill="none" stroke="#e83e8c" stroke-width="1.8"/>
<circle cx="236.1" cy="537.9" r="3.55" fill="none" stroke="#e83e8c" stroke-width="1.8"/>
<circle cx="249.3" cy="535.6" r="3.55" fill="none" stroke="#e83e8c" stroke-width="1.8"/>
<circle cx="262.8" cy="525.6" r="3.55" fill="none" stroke="#e83e8c" stroke-width="1.8"/>
<circle cx="275.5" cy="515.1" r="3.55" fill="none" stroke="#e83e8c" stroke-width="1.8"/>
<circle cx="289.4" cy="507.7" r="3.55" fill="none" stroke="#e83e8c" stroke-width="1.8"/>
<circle cx="302.9" cy="494.3" r="3.55" fill="none" stroke="#e83e8c" stroke-width="1.8"/>
<circle cx="315.6" cy="484.0" r="3.55" fill="none" stroke="#e83e8c" stroke-width="1.8"/>
<circle cx="329.1" cy="475.9" r="3.55" fill="none" stroke="#e83e8c" stroke-width="1.8"/>
<circle cx="341.8" cy="469.5" r="3.55" fill="none" stroke="#e83e8c" stroke-width="1.8"/>
<circle cx="355.3" cy="464.5" r="3.55" fill="none" stroke="#e83e8c" stroke-width="1.8"/>
<circle cx="369.4" cy="454.8" r="3.55" fill="none" stroke="#e83e8c" stroke-width="1.8"/>
<circle cx="381.5" cy="447.9" r="3.55" fill="none" stroke="#e83e8c" stroke-width="1.8"/>
<circle cx="395.2" cy="439.9" r="3.55" fill="none" stroke="#e83e8c" stroke-width="1.8"/>
<circle cx="409.3" cy="430.6" r="3.55" fill="none" stroke="#e83e8c" stroke-width="1.8"/>
<circle cx="421.7" cy="417.7" r="3.55" fill="none" stroke="#e83e8c" stroke-width="1.8"/>
<circle cx="435.4" cy="404.0" r="3.55" fill="none" stroke="#e83e8c" stroke-width="1.8"/>
<circle cx="448.1" cy="393.2" r="3.55" fill="none" stroke="#e83e8c" stroke-width="1.8"/>
<circle cx="461.6" cy="384.3" r="3.55" fill="none" stroke="#e83e8c" stroke-width="1.8"/>
<circle cx="475.0" cy="367.6" r="3.55" fill="none" stroke="#e83e8c" stroke-width="1.8"/>
<circle cx="488.4" cy="347.1" r="3.55" fill="none" stroke="#e83e8c" stroke-width="1.8"/>
<circle cx="501.5" cy="321.3" r="3.55" fill="none" stroke="#e83e8c" stroke-width="1.8"/>
<circle cx="514.5" cy="296.2" r="3.55" fill="none" stroke="#e83e8c" stroke-width="1.8"/>
<circle cx="528.0" cy="278.2" r="3.55" fill="none" stroke="#e83e8c" stroke-width="1.8"/>
<circle cx="541.7" cy="269.1" r="3.55" fill="none" stroke="#e83e8c" stroke-width="1.8"/>
<circle cx="554.2" cy="263.3" r="3.55" fill="none" stroke="#e83e8c" stroke-width="1.8"/>
<circle cx="568.0" cy="259.2" r="3.55" fill="none" stroke="#e83e8c" stroke-width="1.8"/>
<circle cx="581.0" cy="250.6" r="3.55" fill="none" stroke="#e83e8c" stroke-width="1.8"/>
<circle cx="594.0" cy="242.1" r="3.55" fill="none" stroke="#e83e8c" stroke-width="1.8"/>
<circle cx="607.8" cy="238.5" r="3.55" fill="none" stroke="#e83e8c" stroke-width="1.8"/>
<circle cx="620.9" cy="230.0" r="3.55" fill="none" stroke="#e83e8c" stroke-width="1.8"/>
<circle cx="634.2" cy="226.8" r="3.55" fill="none" stroke="#e83e8c" stroke-width="1.8"/>
<circle cx="846.6" cy="280.5" r="3.55" fill="none" stroke="#e83e8c" stroke-width="1.8"/>
<circle cx="859.3" cy="279.5" r="3.55" fill="none" stroke="#e83e8c" stroke-width="1.8"/>
<circle cx="912.8" cy="289.6" r="3.55" fill="none" stroke="#e83e8c" stroke-width="1.8"/>
<circle cx="925.7" cy="301.4" r="3.55" fill="none" stroke="#e83e8c" stroke-width="1.8"/>
<circle cx="979.0" cy="321.7" r="3.55" fill="none" stroke="#e83e8c" stroke-width="1.8"/>
<circle cx="648.0" cy="201.6" r="3.55" fill="none" stroke="#a883e6" stroke-width="1.8"/>
<circle cx="660.7" cy="202.6" r="3.55" fill="none" stroke="#a883e6" stroke-width="1.8"/>
<circle cx="674.0" cy="203.8" r="3.55" fill="none" stroke="#a883e6" stroke-width="1.8"/>
<circle cx="687.3" cy="204.8" r="3.55" fill="none" stroke="#a883e6" stroke-width="1.8"/>
<circle cx="700.5" cy="206.7" r="3.55" fill="none" stroke="#a883e6" stroke-width="1.8"/>
<circle cx="714.0" cy="210.3" r="3.55" fill="none" stroke="#a883e6" stroke-width="1.8"/>
<circle cx="726.8" cy="214.4" r="3.55" fill="none" stroke="#a883e6" stroke-width="1.8"/>
<circle cx="740.3" cy="219.2" r="3.55" fill="none" stroke="#a883e6" stroke-width="1.8"/>
<circle cx="753.3" cy="227.3" r="3.55" fill="none" stroke="#a883e6" stroke-width="1.8"/>
<circle cx="766.6" cy="234.7" r="3.55" fill="none" stroke="#a883e6" stroke-width="1.8"/>
<circle cx="780.2" cy="240.3" r="3.55" fill="none" stroke="#a883e6" stroke-width="1.8"/>
<circle cx="793.0" cy="244.1" r="3.55" fill="none" stroke="#a883e6" stroke-width="1.8"/>
<circle cx="806.6" cy="250.3" r="3.55" fill="none" stroke="#a883e6" stroke-width="1.8"/>
<circle cx="819.4" cy="256.4" r="3.55" fill="none" stroke="#a883e6" stroke-width="1.8"/>
<circle cx="833.0" cy="260.4" r="3.55" fill="none" stroke="#a883e6" stroke-width="1.8"/>
<circle cx="872.9" cy="231.9" r="3.55" fill="none" stroke="#a883e6" stroke-width="1.8"/>
<circle cx="886.6" cy="243.5" r="3.55" fill="none" stroke="#a883e6" stroke-width="1.8"/>
<circle cx="899.3" cy="293.0" r="3.55" fill="none" stroke="#a883e6" stroke-width="1.8"/>
<circle cx="939.1" cy="269.5" r="3.55" fill="none" stroke="#a883e6" stroke-width="1.8"/>
<circle cx="953.0" cy="300.7" r="3.55" fill="none" stroke="#a883e6" stroke-width="1.8"/>
<circle cx="965.6" cy="313.8" r="3.55" fill="none" stroke="#a883e6" stroke-width="1.8"/>
<circle cx="991.9" cy="357.1" r="3.55" fill="none" stroke="#a883e6" stroke-width="1.8"/>
<circle cx="1005.4" cy="345.5" r="3.55" fill="none" stroke="#a883e6" stroke-width="1.8"/>
<circle cx="1019.1" cy="365.0" r="3.55" fill="none" stroke="#a883e6" stroke-width="1.8"/>
<circle cx="1032.0" cy="383.6" r="3.55" fill="none" stroke="#a883e6" stroke-width="1.8"/>
<circle cx="1045.4" cy="388.8" r="3.55" fill="none" stroke="#a883e6" stroke-width="1.8"/>
<path d="M-1.9 601.8 L11.4 594.3 L24.6 587.3 L37.9 581.3 L51.1 579.4 L64.4 579.9 L77.7 579.5 L90.9 579.0 L104.2 576.6 L117.4 573.8 L130.7 568.9 L144.0 563.6 L157.2 561.4 L170.5 559.2 L183.7 553.5 L197.0 548.2 L210.3 546.7 L223.5 545.0 L236.8 540.9 L250.0 532.1 L263.3 522.9 L276.6 515.8 L289.8 505.0 L303.1 493.9 L316.3 485.4 L329.6 478.4 L342.9 473.0 L356.1 466.1 L369.4 457.2 L382.6 448.2 L395.9 437.9 L409.2 426.0 L422.4 412.9 L435.7 404.6 L448.9 395.3 L462.2 378.0 L475.5 360.8 L488.7 336.4 L502.0 311.9 L515.2 299.7 L528.5 296.4 L541.8 286.2 L555.0 278.5 L568.3 265.0 L581.5 259.7 L594.8 253.3 L608.1 247.2 L621.3 244.2 L634.6 242.1 L647.8 243.9 L661.1 237.9 L674.4 233.3 L687.6 232.0 L700.9 233.1 L714.1 239.2 L727.4 243.7 L740.7 248.3 L753.9 252.5 L767.2 254.3 L780.4 257.9 L793.7 261.9 L807.0 264.5 L820.2 264.1 L833.5 258.6 L846.7 258.5 L860.0 263.9 L873.3 270.9 L886.5 274.7 L899.8 278.7 L913.0 278.0 L926.3 278.4 L939.6 284.2 L952.8 288.5 L966.1 298.6 L979.3 306.7 L992.6 316.2 L1005.9 323.6 L1019.1 334.0 L1032.4 344.5 L1045.6 354.3" fill="none" stroke="#f7d127" stroke-width="1.5" stroke-linejoin="round" />
<path d="M-1.9 606.5 L11.4 600.4 L24.6 594.6 L37.9 589.5 L51.1 587.4 L64.4 587.4 L77.7 586.9 L90.9 586.1 L104.2 583.3 L117.4 579.8 L130.7 574.4 L144.0 569.2 L157.2 567.0 L170.5 565.6 L183.7 562.2 L197.0 558.7 L210.3 556.8 L223.5 554.1 L236.8 549.2 L250.0 540.7 L263.3 532.5 L276.6 526.1 L289.8 517.2 L303.1 508.3 L316.3 501.2 L329.6 495.1 L342.9 490.2 L356.1 483.5 L369.4 474.9 L382.6 466.0 L395.9 455.8 L409.2 444.6 L422.4 433.3 L435.7 425.2 L448.9 417.4 L462.2 403.7 L475.5 388.8 L488.7 368.4 L502.0 346.7 L515.2 333.1 L528.5 326.2 L541.8 315.8 L555.0 308.0 L568.3 295.7 L581.5 288.6 L594.8 278.9 L608.1 268.9 L621.3 263.2 L634.6 259.8 L647.8 260.3 L661.1 256.7 L674.4 251.2 L687.6 247.3 L700.9 244.8 L714.1 245.1 L727.4 246.9 L740.7 249.3 L753.9 252.0 L767.2 252.8 L780.4 254.1 L793.7 256.3 L807.0 257.6 L820.2 258.4 L833.5 255.7 L846.7 256.0 L860.0 261.0 L873.3 266.0 L886.5 269.3 L899.8 272.5 L913.0 272.4 L926.3 273.2 L939.6 276.7 L952.8 279.7 L966.1 287.8 L979.3 295.8 L992.6 305.6 L1005.9 313.5 L1019.1 321.8 L1032.4 329.4 L1045.6 336.9" fill="none" stroke="#3fc082" stroke-width="1.5" stroke-linejoin="round" />
<path d="M-1.9 608.3 L11.4 603.3 L24.6 598.3 L37.9 593.7 L51.1 591.2 L64.4 590.4 L77.7 589.5 L90.9 588.2 L104.2 586.4 L117.4 585.2 L130.7 582.8 L144.0 579.5 L157.2 577.1 L170.5 575.1 L183.7 571.3 L197.0 567.4 L210.3 564.8 L223.5 562.4 L236.8 558.8 L250.0 552.9 L263.3 547.0 L276.6 542.1 L289.8 534.8 L303.1 526.8 L316.3 520.1 L329.6 514.0 L342.9 508.7 L356.1 502.3 L369.4 495.2 L382.6 488.2 L395.9 479.7 L409.2 469.8 L422.4 459.7 L435.7 451.8 L448.9 443.4 L462.2 430.8 L475.5 417.9 L488.7 401.9 L502.0 384.7 L515.2 372.4 L528.5 365.1 L541.8 355.7 L555.0 347.6 L568.3 336.0 L581.5 327.6 L594.8 318.3 L608.1 308.7 L621.3 301.3 L634.6 295.6 L647.8 292.0 L661.1 285.7 L674.4 278.3 L687.6 272.7 L700.9 268.5 L714.1 266.8 L727.4 266.6 L740.7 268.0 L753.9 268.9 L767.2 267.8 L780.4 267.3 L793.7 267.3 L807.0 267.2 L820.2 265.5 L833.5 261.7 L846.7 260.8 L860.0 262.8 L873.3 265.4 L886.5 266.6 L899.8 268.9 L913.0 269.0 L926.3 269.1 L939.6 271.5 L952.8 273.8 L966.1 280.1 L979.3 286.1 L992.6 292.4 L1005.9 297.9 L1019.1 304.6 L1032.4 311.0 L1045.6 317.8" fill="none" stroke="#a6bf3a" stroke-width="1.5" stroke-linejoin="round" />
<path d="M0.0 614.1 L3.3 613.1 L6.6 612.2 L9.9 611.3 L13.2 610.5 L16.5 609.6 L19.8 608.9 L23.1 608.1 L26.4 607.4 L29.7 606.8 L33.0 606.1 L36.3 605.6 L39.6 605.1 L42.9 604.6 L46.2 604.2 L49.5 603.7 L52.8 603.4 L56.1 603.0 L59.4 602.6 L62.7 602.2 L66.0 601.9 L69.3 601.5 L72.6 601.2 L75.9 600.9 L79.2 600.6 L82.5 600.2 L85.8 599.9 L89.1 599.5 L92.4 599.0 L95.7 598.6 L99.0 598.1 L102.3 597.5 L105.6 596.9 L108.9 596.3 L112.2 595.7 L115.5 595.0 L118.8 594.3 L122.1 593.5 L125.4 592.6 L128.7 591.6 L132.0 590.7 L135.3 589.7 L138.6 588.8 L141.9 587.9 L145.2 587.2 L148.5 586.5 L151.8 585.8 L155.1 585.2 L158.4 584.6 L161.7 584.0 L165.0 583.4 L168.3 582.7 L171.6 582.1 L174.9 581.5 L178.2 580.8 L181.5 580.2 L184.8 579.6 L188.1 579.0 L191.4 578.4 L194.7 577.8 L198.0 577.1 L201.3 576.4 L204.6 575.7 L207.9 575.0 L211.2 574.2 L214.5 573.4 L217.8 572.5 L221.1 571.7 L224.4 570.8 L227.7 569.8 L231.0 568.9 L234.3 567.9 L237.6 566.9 L240.9 565.8 L244.2 564.8 L247.5 563.7 L250.8 562.6 L254.1 561.5 L257.4 560.4 L260.7 559.2 L264.0 558.1 L267.3 556.9 L270.6 555.7 L273.9 554.5 L277.2 553.3 L280.5 552.1 L283.8 550.9 L287.1 549.6 L290.4 548.4 L293.7 547.1 L297.0 545.9 L300.3 544.7 L303.6 543.4 L306.9 542.2 L310.2 540.9 L313.5 539.7 L316.8 538.4 L320.1 537.1 L323.4 535.9 L326.7 534.6 L330.0 533.3 L333.3 532.0 L336.6 530.7 L339.9 529.3 L343.2 528.0 L346.5 526.6 L349.8 525.3 L353.1 523.9 L356.4 522.5 L359.7 521.1 L363.0 519.6 L366.3 518.2 L369.6 516.7 L372.9 515.2 L376.2 513.7 L379.5 512.2 L382.8 510.7 L386.1 509.1 L389.4 507.5 L392.7 505.9 L396.0 504.3 L399.3 502.6 L402.6 500.9 L405.9 499.1 L409.2 497.3 L412.5 495.5 L415.8 493.7 L419.1 491.8 L422.4 489.9 L425.7 488.0 L429.0 486.0 L432.3 484.1 L435.6 482.1 L438.9 480.2 L442.2 478.2 L445.5 476.2 L448.8 474.2 L452.1 472.2 L455.4 470.2 L458.7 468.0 L462.0 465.9 L465.3 463.6 L468.6 461.3 L471.9 458.9 L475.2 456.4 L478.5 453.7 L481.8 450.9 L485.1 447.7 L488.4 444.3 L491.7 440.8 L495.0 437.2 L498.3 433.5 L501.6 430.0 L504.9 426.5 L508.2 423.3 L511.5 420.3 L514.8 417.6 L518.1 415.1 L521.4 412.7 L524.7 410.4 L528.0 408.1 L531.3 405.8 L534.6 403.5 L537.9 401.2 L541.2 398.7 L544.5 396.2 L547.8 393.6 L551.1 390.9 L554.4 388.3 L557.7 385.6 L561.0 382.8 L564.3 380.1 L567.6 377.4 L570.9 374.8 L574.2 372.1 L577.5 369.6 L580.8 367.0 L584.1 364.6 L587.4 362.1 L590.7 359.6 L594.0 357.0 L597.3 354.6 L600.6 352.1 L603.9 349.7 L607.2 347.4 L610.5 345.1 L613.8 343.0 L617.1 341.0 L620.4 339.1 L623.7 337.4 L627.0 335.7 L630.3 334.2 L633.6 332.7 L636.9 331.3 L640.2 329.9 L643.5 328.6 L646.8 327.3 L650.1 326.0 L653.4 324.7 L656.7 323.4 L660.0 322.1 L663.3 320.8 L666.6 319.4 L669.9 318.0 L673.2 316.6 L676.5 315.2 L679.8 313.8 L683.1 312.5 L686.4 311.1 L689.7 309.8 L693.0 308.5 L696.3 307.3 L699.6 306.1 L702.9 305.0 L706.2 303.9 L709.5 302.9 L712.8 301.9 L716.1 300.9 L719.4 300.1 L722.7 299.2 L726.0 298.4 L729.3 297.7 L732.6 297.0 L735.9 296.2 L739.2 295.6 L742.5 294.9 L745.8 294.2 L749.1 293.6 L752.4 293.0 L755.7 292.4 L759.0 291.8 L762.3 291.3 L765.6 290.7 L768.9 290.2 L772.2 289.6 L775.5 289.1 L778.8 288.6 L782.1 288.1 L785.4 287.7 L788.7 287.2 L792.0 286.7 L795.3 286.3 L798.6 285.9 L801.9 285.4 L805.2 285.0 L808.5 284.5 L811.8 284.0 L815.1 283.5 L818.4 283.1 L821.7 282.7 L825.0 282.4 L828.3 282.2 L831.6 282.2 L834.9 282.2 L838.2 282.3 L841.5 282.4 L844.8 282.6 L848.1 282.7 L851.4 282.8 L854.7 282.9 L858.0 283.0 L861.3 283.0 L864.6 283.0 L867.9 283.0 L871.2 283.0 L874.5 283.0 L877.8 282.9 L881.1 282.9 L884.4 282.9 L887.7 282.8 L891.0 282.8 L894.3 282.7 L897.6 282.7 L900.9 282.6 L904.2 282.5 L907.5 282.2 L910.8 281.8 L914.1 281.4 L917.4 280.9 L920.7 280.4 L924.0 280.0 L927.3 279.7 L930.6 279.6 L933.9 279.6 L937.2 279.7 L940.5 279.8 L943.8 280.0 L947.1 280.2 L950.4 280.5 L953.7 280.9 L957.0 281.6 L960.3 282.6 L963.6 283.8 L966.9 285.0 L970.2 286.1 L973.5 287.1 L976.8 288.0 L980.1 288.8 L983.4 289.7 L986.7 290.5 L990.0 291.4 L993.3 292.2 L996.6 293.1 L999.9 294.1 L1003.2 295.1 L1006.5 296.2 L1009.8 297.4 L1013.1 298.6 L1016.4 299.8 L1019.7 300.9 L1023.0 302.0 L1026.3 303.0 L1029.6 304.0 L1032.9 304.9 L1036.2 305.8 L1039.5 306.7 L1042.8 307.6 L1045.3 308.2" fill="none" stroke="#22b4dc" stroke-width="1.5" stroke-linejoin="round" />
<path d="M0.0 618.4 L3.3 618.0 L6.6 617.6 L9.9 617.2 L13.2 616.8 L16.5 616.4 L19.8 616.0 L23.1 615.7 L26.4 615.3 L29.7 614.9 L33.0 614.6 L36.3 614.2 L39.6 613.9 L42.9 613.5 L46.2 613.2 L49.5 612.9 L52.8 612.6 L56.1 612.3 L59.4 612.0 L62.7 611.8 L66.0 611.5 L69.3 611.2 L72.6 610.9 L75.9 610.6 L79.2 610.2 L82.5 609.9 L85.8 609.5 L89.1 609.2 L92.4 608.8 L95.7 608.3 L99.0 607.9 L102.3 607.4 L105.6 606.9 L108.9 606.4 L112.2 605.9 L115.5 605.4 L118.8 604.8 L122.1 604.3 L125.4 603.7 L128.7 603.1 L132.0 602.5 L135.3 601.9 L138.6 601.3 L141.9 600.7 L145.2 600.1 L148.5 599.5 L151.8 598.9 L155.1 598.3 L158.4 597.7 L161.7 597.1 L165.0 596.4 L168.3 595.8 L171.6 595.1 L174.9 594.5 L178.2 593.8 L181.5 593.1 L184.8 592.4 L188.1 591.7 L191.4 591.0 L194.7 590.3 L198.0 589.5 L201.3 588.8 L204.6 588.0 L207.9 587.2 L211.2 586.4 L214.5 585.6 L217.8 584.8 L221.1 584.0 L224.4 583.1 L227.7 582.3 L231.0 581.4 L234.3 580.6 L237.6 579.7 L240.9 578.8 L244.2 577.9 L247.5 577.0 L250.8 576.1 L254.1 575.2 L257.4 574.3 L260.7 573.4 L264.0 572.4 L267.3 571.5 L270.6 570.5 L273.9 569.5 L277.2 568.5 L280.5 567.5 L283.8 566.5 L287.1 565.5 L290.4 564.5 L293.7 563.5 L297.0 562.4 L300.3 561.3 L303.6 560.3 L306.9 559.2 L310.2 558.1 L313.5 557.0 L316.8 555.9 L320.1 554.8 L323.4 553.6 L326.7 552.5 L330.0 551.3 L333.3 550.2 L336.6 549.0 L339.9 547.8 L343.2 546.6 L346.5 545.4 L349.8 544.2 L353.1 543.0 L356.4 541.7 L359.7 540.5 L363.0 539.2 L366.3 537.9 L369.6 536.6 L372.9 535.2 L376.2 533.8 L379.5 532.4 L382.8 530.9 L386.1 529.4 L389.4 527.9 L392.7 526.4 L396.0 524.8 L399.3 523.3 L402.6 521.7 L405.9 520.0 L409.2 518.4 L412.5 516.7 L415.8 515.0 L419.1 513.3 L422.4 511.6 L425.7 509.9 L429.0 508.1 L432.3 506.4 L435.6 504.6 L438.9 502.8 L442.2 500.9 L445.5 499.0 L448.8 497.1 L452.1 495.1 L455.4 493.1 L458.7 491.0 L462.0 488.9 L465.3 486.8 L468.6 484.6 L471.9 482.5 L475.2 480.2 L478.5 477.9 L481.8 475.5 L485.1 473.1 L488.4 470.6 L491.7 468.1 L495.0 465.6 L498.3 463.1 L501.6 460.6 L504.9 458.2 L508.2 455.8 L511.5 453.5 L514.8 451.2 L518.1 449.0 L521.4 446.9 L524.7 444.9 L528.0 442.9 L531.3 440.9 L534.6 439.0 L537.9 437.1 L541.2 435.1 L544.5 433.2 L547.8 431.3 L551.1 429.3 L554.4 427.3 L557.7 425.2 L561.0 423.0 L564.3 420.8 L567.6 418.5 L570.9 416.1 L574.2 413.7 L577.5 411.3 L580.8 408.9 L584.1 406.6 L587.4 404.3 L590.7 402.2 L594.0 400.1 L597.3 398.0 L600.6 395.9 L603.9 393.8 L607.2 391.8 L610.5 389.9 L613.8 388.0 L617.1 386.2 L620.4 384.4 L623.7 382.7 L627.0 381.2 L630.3 379.7 L633.6 378.2 L636.9 376.7 L640.2 375.3 L643.5 373.8 L646.8 372.2 L650.1 370.5 L653.4 368.8 L656.7 366.9 L660.0 365.0 L663.3 363.0 L666.6 361.1 L669.9 359.1 L673.2 357.3 L676.5 355.4 L679.8 353.7 L683.1 352.1 L686.4 350.5 L689.7 348.9 L693.0 347.5 L696.3 346.0 L699.6 344.7 L702.9 343.4 L706.2 342.1 L709.5 340.9 L712.8 339.7 L716.1 338.6 L719.4 337.5 L722.7 336.4 L726.0 335.4 L729.3 334.4 L732.6 333.4 L735.9 332.4 L739.2 331.4 L742.5 330.5 L745.8 329.6 L749.1 328.7 L752.4 327.8 L755.7 327.0 L759.0 326.2 L762.3 325.4 L765.6 324.7 L768.9 324.0 L772.2 323.3 L775.5 322.6 L778.8 321.9 L782.1 321.3 L785.4 320.7 L788.7 320.0 L792.0 319.4 L795.3 318.8 L798.6 318.2 L801.9 317.6 L805.2 316.9 L808.5 316.3 L811.8 315.7 L815.1 315.1 L818.4 314.5 L821.7 313.9 L825.0 313.3 L828.3 312.7 L831.6 312.2 L834.9 311.7 L838.2 311.2 L841.5 310.7 L844.8 310.2 L848.1 309.8 L851.4 309.4 L854.7 309.0 L858.0 308.6 L861.3 308.2 L864.6 307.8 L867.9 307.4 L871.2 307.1 L874.5 306.7 L877.8 306.4 L881.1 306.0 L884.4 305.6 L887.7 305.3 L891.0 304.9 L894.3 304.6 L897.6 304.3 L900.9 303.9 L904.2 303.6 L907.5 303.4 L910.8 303.2 L914.1 302.9 L917.4 302.7 L920.7 302.5 L924.0 302.3 L927.3 302.1 L930.6 301.9 L933.9 301.8 L937.2 301.8 L940.5 301.8 L943.8 301.9 L947.1 302.1 L950.4 302.3 L953.7 302.5 L957.0 302.7 L960.3 303.0 L963.6 303.2 L966.9 303.5 L970.2 303.8 L973.5 304.2 L976.8 304.5 L980.1 304.9 L983.4 305.4 L986.7 305.8 L990.0 306.3 L993.3 306.9 L996.6 307.5 L999.9 308.1 L1003.2 308.7 L1006.5 309.3 L1009.8 309.9 L1013.1 310.4 L1016.4 311.0 L1019.7 311.6 L1023.0 312.2 L1026.3 312.8 L1029.6 313.4 L1032.9 314.0 L1036.2 314.6 L1039.5 315.3 L1042.8 315.9 L1045.5 316.4" fill="none" stroke="#9a78e0" stroke-width="1.5" stroke-linejoin="round" />
<path d="M0.0 619.8 L3.3 619.3 L6.6 618.8 L9.9 618.2 L13.2 617.8 L16.5 617.3 L19.8 616.8 L23.1 616.4 L26.4 616.0 L29.7 615.6 L33.0 615.2 L36.3 614.9 L39.6 614.6 L42.9 614.3 L46.2 614.1 L49.5 613.8 L52.8 613.6 L56.1 613.4 L59.4 613.2 L62.7 613.0 L66.0 612.9 L69.3 612.7 L72.6 612.5 L75.9 612.3 L79.2 612.1 L82.5 611.8 L85.8 611.6 L89.1 611.3 L92.4 611.0 L95.7 610.7 L99.0 610.4 L102.3 610.0 L105.6 609.7 L108.9 609.3 L112.2 608.9 L115.5 608.5 L118.8 608.1 L122.1 607.6 L125.4 607.2 L128.7 606.8 L132.0 606.3 L135.3 605.9 L138.6 605.4 L141.9 605.0 L145.2 604.5 L148.5 604.1 L151.8 603.6 L155.1 603.1 L158.4 602.7 L161.7 602.2 L165.0 601.7 L168.3 601.3 L171.6 600.8 L174.9 600.3 L178.2 599.8 L181.5 599.3 L184.8 598.7 L188.1 598.2 L191.4 597.7 L194.7 597.1 L198.0 596.6 L201.3 596.0 L204.6 595.4 L207.9 594.8 L211.2 594.2 L214.5 593.6 L217.8 592.9 L221.1 592.3 L224.4 591.6 L227.7 591.0 L231.0 590.3 L234.3 589.7 L237.6 589.0 L240.9 588.3 L244.2 587.6 L247.5 586.9 L250.8 586.2 L254.1 585.5 L257.4 584.8 L260.7 584.1 L264.0 583.3 L267.3 582.6 L270.6 581.9 L273.9 581.1 L277.2 580.3 L280.5 579.6 L283.8 578.8 L287.1 578.0 L290.4 577.2 L293.7 576.4 L297.0 575.6 L300.3 574.8 L303.6 574.0 L306.9 573.1 L310.2 572.3 L313.5 571.4 L316.8 570.6 L320.1 569.7 L323.4 568.8 L326.7 567.9 L330.0 567.0 L333.3 566.1 L336.6 565.2 L339.9 564.3 L343.2 563.4 L346.5 562.4 L349.8 561.5 L353.1 560.5 L356.4 559.5 L359.7 558.6 L363.0 557.6 L366.3 556.6 L369.6 555.6 L372.9 554.6 L376.2 553.5 L379.5 552.5 L382.8 551.5 L386.1 550.4 L389.4 549.4 L392.7 548.3 L396.0 547.2 L399.3 546.1 L402.6 545.0 L405.9 543.9 L409.2 542.8 L412.5 541.7 L415.8 540.5 L419.1 539.4 L422.4 538.2 L425.7 537.0 L429.0 535.7 L432.3 534.4 L435.6 533.1 L438.9 531.7 L442.2 530.3 L445.5 528.9 L448.8 527.4 L452.1 525.9 L455.4 524.3 L458.7 522.8 L462.0 521.1 L465.3 519.5 L468.6 517.7 L471.9 516.0 L475.2 514.2 L478.5 512.3 L481.8 510.4 L485.1 508.2 L488.4 505.9 L491.7 503.5 L495.0 501.1 L498.3 498.5 L501.6 496.0 L504.9 493.5 L508.2 491.1 L511.5 488.7 L514.8 486.4 L518.1 484.2 L521.4 482.1 L524.7 480.0 L528.0 478.0 L531.3 475.9 L534.6 473.9 L537.9 471.9 L541.2 469.9 L544.5 468.0 L547.8 466.0 L551.1 464.1 L554.4 462.2 L557.7 460.2 L561.0 458.3 L564.3 456.4 L567.6 454.5 L570.9 452.6 L574.2 450.8 L577.5 448.9 L580.8 447.1 L584.1 445.2 L587.4 443.4 L590.7 441.5 L594.0 439.6 L597.3 437.7 L600.6 435.8 L603.9 433.9 L607.2 431.9 L610.5 430.1 L613.8 428.2 L617.1 426.4 L620.4 424.7 L623.7 423.1 L627.0 421.5 L630.3 420.0 L633.6 418.6 L636.9 417.1 L640.2 415.6 L643.5 414.1 L646.8 412.5 L650.1 410.8 L653.4 409.0 L656.7 407.0 L660.0 405.0 L663.3 403.0 L666.6 401.0 L669.9 399.1 L673.2 397.3 L676.5 395.6 L679.8 394.0 L683.1 392.4 L686.4 390.8 L689.7 389.3 L693.0 387.8 L696.3 386.4 L699.6 385.0 L702.9 383.6 L706.2 382.3 L709.5 381.0 L712.8 379.7 L716.1 378.4 L719.4 377.2 L722.7 376.0 L726.0 374.7 L729.3 373.5 L732.6 372.3 L735.9 371.1 L739.2 369.9 L742.5 368.7 L745.8 367.5 L749.1 366.3 L752.4 365.2 L755.7 364.0 L759.0 363.0 L762.3 361.9 L765.6 360.9 L768.9 359.9 L772.2 358.9 L775.5 357.9 L778.8 357.0 L782.1 356.0 L785.4 355.2 L788.7 354.3 L792.0 353.6 L795.3 352.8 L798.6 352.2 L801.9 351.6 L805.2 351.0 L808.5 350.5 L811.8 349.9 L815.1 349.4 L818.4 348.8 L821.7 348.1 L825.0 347.4 L828.3 346.7 L831.6 345.8 L834.9 345.0 L838.2 344.2 L841.5 343.4 L844.8 342.6 L848.1 341.9 L851.4 341.2 L854.7 340.7 L858.0 340.1 L861.3 339.7 L864.6 339.2 L867.9 338.7 L871.2 338.3 L874.5 337.9 L877.8 337.4 L881.1 336.9 L884.4 336.4 L887.7 335.9 L891.0 335.4 L894.3 334.9 L897.6 334.4 L900.9 333.9 L904.2 333.4 L907.5 333.0 L910.8 332.6 L914.1 332.2 L917.4 331.8 L920.7 331.4 L924.0 331.1 L927.3 330.8 L930.6 330.5 L933.9 330.2 L937.2 329.9 L940.5 329.7 L943.8 329.4 L947.1 329.1 L950.4 328.9 L953.7 328.7 L957.0 328.6 L960.3 328.5 L963.6 328.5 L966.9 328.6 L970.2 328.6 L973.5 328.7 L976.8 328.8 L980.1 328.9 L983.4 329.0 L986.7 329.1 L990.0 329.3 L993.3 329.5 L996.6 329.7 L999.9 329.9 L1003.2 330.2 L1006.5 330.4 L1009.8 330.6 L1013.1 330.8 L1016.4 331.1 L1019.7 331.3 L1023.0 331.6 L1026.3 331.8 L1029.6 332.1 L1032.9 332.4 L1036.2 332.7 L1039.5 332.9 L1042.8 333.2 L1045.7 333.5" fill="none" stroke="#d772c0" stroke-width="1.5" stroke-linejoin="round" />
<path d="M-1.9 604.1 L11.4 595.9 L24.6 588.3 L37.9 582.0 L51.1 579.4 L64.4 580.6 L77.7 582.5 L90.9 583.4 L104.2 581.4 L117.4 578.3 L130.7 572.1 L144.0 565.4 L157.2 561.9 L170.5 560.4 L183.7 557.7 L197.0 553.4 L210.3 551.0 L223.5 549.6 L236.8 545.5 L250.0 535.4 L263.3 525.3 L276.6 517.4 L289.8 507.8 L303.1 497.4 L316.3 488.2 L329.6 482.8 L342.9 479.4 L356.1 472.9 L369.4 464.6 L382.6 455.6 L395.9 445.0 L409.2 432.9 L422.4 419.4 L435.7 410.4 L448.9 403.1 L462.2 389.4 L475.5 372.1 L488.7 348.1 L502.0 324.2 L515.2 307.1 L528.5 301.2 L541.8 296.3 L555.0 291.4 L568.3 279.9 L581.5 276.1 L594.8 267.2 L608.1 258.8 L621.3 252.9 L634.6 250.2 L647.8 254.3 L661.1 252.0 L674.4 247.1 L687.6 242.6 L700.9 241.3 L714.1 243.7 L727.4 246.1 L740.7 251.0 L753.9 255.7 L767.2 257.9 L780.4 259.5 L793.7 261.0 L807.0 262.5 L820.2 262.6 L833.5 257.2 L846.7 255.8 L860.0 260.4 L873.3 268.1 L886.5 273.1 L899.8 276.7 L913.0 277.1 L926.3 277.9 L939.6 279.8 L952.8 283.2 L966.1 293.1 L979.3 302.1 L992.6 314.9 L1005.9 323.7 L1019.1 333.1 L1032.4 341.8 L1045.6 349.7" fill="none" stroke="#f5932b" stroke-width="1.5" stroke-linejoin="round" />
<line x1="0" x2="1347" y1="391.5" y2="391.5" stroke="#12806f" stroke-width="1" stroke-dasharray="4.3 3.4"/>
<defs><radialGradient id="glow"><stop offset="0" stop-color="#10b89a" stop-opacity=".55"/><stop offset="1" stop-color="#10b89a" stop-opacity="0"/></radialGradient></defs>
<circle cx="1045.4" cy="390.8" r="10" fill="url(#glow)"/><circle cx="1045.4" cy="390.8" r="3.6" fill="#12b897"/>
<line x1="714.5" x2="714.5" y1="144" y2="672" stroke="#4a5160"/>
</svg>
<svg class="a" style="left:1px;top:149.9px" width="40" height="18" viewBox="0 0 40 18"><path d="M1.5 2.5l13 13M14.5 2.5l-13 13" stroke="#aeb3bf" stroke-width="1.5"/><path d="M30.5 1.6l6.4 3.7v7.4l-6.4 3.7-6.4-3.7V5.3z" fill="none" stroke="#aeb3bf" stroke-width="1.5"/><circle cx="30.5" cy="9" r="2.8" fill="none" stroke="#aeb3bf" stroke-width="1.5"/></svg>
<div class="a lg" style="left:49.6px;top:147.7px;color:#f5a33c">MA5:3977.95</div>
<div class="a lg" style="left:144.8px;top:147.7px;color:#1fbbd9">MA10:3977.91</div>
<div class="a lg" style="left:247.6px;top:147.7px;color:#a884e4">MA20:3976.89</div>
<svg class="a" style="left:1px;top:172.6px" width="40" height="18" viewBox="0 0 40 18"><path d="M1.5 2.5l13 13M14.5 2.5l-13 13" stroke="#aeb3bf" stroke-width="1.5"/><path d="M30.5 1.6l6.4 3.7v7.4l-6.4 3.7-6.4-3.7V5.3z" fill="none" stroke="#aeb3bf" stroke-width="1.5"/><circle cx="30.5" cy="9" r="2.8" fill="none" stroke="#aeb3bf" stroke-width="1.5"/></svg>
<div class="a lg" style="left:49.6px;top:170.0px;color:#e6e8ec">BOLL</div>
<div class="a lg" style="left:94.1px;top:170.0px;color:#cf6fc1">UP:3982.83</div>
<div class="a lg" style="left:179.5px;top:170.0px;color:#5d7df0">MID:3976.89</div>
<div class="a lg" style="left:271.5px;top:170.0px;color:#b4692f">LOW:3970.95</div>
<svg class="a" style="left:1px;top:194.7px" width="40" height="18" viewBox="0 0 40 18"><path d="M1.5 2.5l13 13M14.5 2.5l-13 13" stroke="#aeb3bf" stroke-width="1.5"/><path d="M30.5 1.6l6.4 3.7v7.4l-6.4 3.7-6.4-3.7V5.3z" fill="none" stroke="#aeb3bf" stroke-width="1.5"/><circle cx="30.5" cy="9" r="2.8" fill="none" stroke="#aeb3bf" stroke-width="1.5"/></svg>
<div class="a lg" style="left:49.6px;top:192.4px;color:#ff8f1f">MMV(55, 22) MMV:3952.58</div>
<svg class="a" style="left:1px;top:217.0px" width="40" height="18" viewBox="0 0 40 18"><path d="M1.5 2.5l13 13M14.5 2.5l-13 13" stroke="#aeb3bf" stroke-width="1.5"/><path d="M30.5 1.6l6.4 3.7v7.4l-6.4 3.7-6.4-3.7V5.3z" fill="none" stroke="#aeb3bf" stroke-width="1.5"/><circle cx="30.5" cy="9" r="2.8" fill="none" stroke="#aeb3bf" stroke-width="1.5"/></svg>
<div class="a lg" style="left:49.6px;top:214.8px;color:#a884e4">SAR(2,20,4) SAR:3980.75</div>
<svg class="a" style="left:1px;top:239.7px" width="40" height="18" viewBox="0 0 40 18"><path d="M1.5 2.5l13 13M14.5 2.5l-13 13" stroke="#aeb3bf" stroke-width="1.5"/><path d="M30.5 1.6l6.4 3.7v7.4l-6.4 3.7-6.4-3.7V5.3z" fill="none" stroke="#aeb3bf" stroke-width="1.5"/><circle cx="30.5" cy="9" r="2.8" fill="none" stroke="#aeb3bf" stroke-width="1.5"/></svg>
<div class="a lg" style="left:49.6px;top:237.4px;color:#f7d127">PBX4:3977.54</div>
<div class="a lg" style="left:147.5px;top:237.4px;color:#3fc082">PBX6:3976.64</div>
<div class="a lg" style="left:245.5px;top:237.4px;color:#a6bf3a">PBX9:3974.24</div>
<div class="a lg" style="left:343.4px;top:237.4px;color:#22b4dc">PBX13:3970.03</div>
<div class="a lg" style="left:449.4px;top:237.4px;color:#9a78e0">PBX18:3965.68</div>
<div class="a lg" style="left:556px;top:237.4px;color:#d772c0">PBX24:3960.93</div>
<svg class="a" style="left:1px;top:262.0px" width="40" height="18" viewBox="0 0 40 18"><path d="M1.5 2.5l13 13M14.5 2.5l-13 13" stroke="#aeb3bf" stroke-width="1.5"/><path d="M30.5 1.6l6.4 3.7v7.4l-6.4 3.7-6.4-3.7V5.3z" fill="none" stroke="#aeb3bf" stroke-width="1.5"/><circle cx="30.5" cy="9" r="2.8" fill="none" stroke="#aeb3bf" stroke-width="1.5"/></svg>
<div class="a lg" style="left:49.6px;top:259.6px;color:#f5932b">BBI(12,3,6,24):3976.76</div>
<div class="a ax r" style="top:146.5px">3988.54</div>
<div class="a ax r" style="top:270.5px">3973.07</div>
<div class="a ax r" style="top:402.5px">3957.60</div>
<div class="a ax r" style="top:534.5px">3942.12</div>
<div class="a ax g" style="top:653.5px">3926.65</div>
<div class="a" style="left:1348px;top:380.4px;width:69.7px;height:22.7px;background:#0ea58c;color:#fff;font-size:15px;line-height:22.7px;padding-left:8px;-webkit-text-stroke:.3px">3959.52</div>
<div class="a" style="left:1348px;top:495.5px;width:69.5px;height:21.5px;background:#2c3648;color:#f0f2f5;font-size:15px;line-height:21.5px;padding-left:8px;-webkit-text-stroke:.3px">3946.17</div>
<div class="a" style="left:1323px;top:494.5px;width:22px;height:22.5px;background:#2c3648;border-radius:3px"><svg width="22" height="22" viewBox="0 0 22 22"><path d="M11 3.6c-.6 0-1.1.5-1.1 1.1v.3C7.7 5.6 6.4 7.5 6.4 9.8v3l-1.7 2.3v.7h12.6v-.7l-1.7-2.3v-3c0-2.3-1.3-4.2-3.5-4.8v-.3c0-.6-.5-1.1-1.1-1.1z" fill="#6f7686"/><path d="M9.3 16.6a1.7 1.7 0 0 0 3.4 0z" fill="#6f7686"/></svg></div>
<svg class="a" style="left:1397px;top:301px" width="21" height="80" viewBox="0 0 21 80"><path d="M21 0v80L1 70V12z" fill="#2c3442"/><path d="M8 35l6 6.2-6 6.2" fill="none" stroke="#8f95a3" stroke-width="1.5"/></svg>
<div class="a" style="left:1179px;top:287.5px;width:158px;height:175.5px;border:1px solid #2e3848;border-radius:6px;background:rgba(27,33,46,.8)"></div>
<div class="a tt" style="left:1190px;top:298.3px;color:#a4a9b6">时间</div>
<div class="a tt w" style="right:365.0px;top:298.3px">10-30 12:53</div>
<div class="a tt" style="left:1190px;top:321.5px;color:#a4a9b6">最高</div>
<div class="a tt r" style="right:365.0px;top:321.5px">3978.01</div>
<div class="a tt" style="left:1190px;top:343.9px;color:#a4a9b6">最低</div>
<div class="a tt r" style="right:365.0px;top:343.9px">3974.70</div>
<div class="a tt" style="left:1190px;top:366.7px;color:#a4a9b6">开盘</div>
<div class="a tt r" style="right:365.0px;top:366.7px">3977.98</div>
<div class="a tt" style="left:1190px;top:388.8px;color:#a4a9b6">收盘</div>
<div class="a tt r" style="right:365.0px;top:388.8px">3975.42</div>
<div class="a tt" style="left:1190px;top:411.6px;color:#a4a9b6">涨跌</div>
<div class="a tt g" style="right:365.0px;top:411.6px">-2.56</div>
<div class="a tt" style="left:1190px;top:433.6px;color:#a4a9b6">幅度</div>
<div class="a tt g" style="right:365.0px;top:433.6px">-0.06%</div>
<div class="a tl" style="left:64px">12:04</div>
<div class="a tl" style="left:303px">12:22</div>
<div class="a tl" style="left:541.5px">12:40</div>
<div class="a tl" style="left:780px">12:58</div>
<div class="a tl" style="left:1019px">13:16</div>
<div class="a" style="left:645px;top:673px;width:138.5px;height:22px;background:#2c3648;color:#eef0f3;font-size:16.2px;line-height:24.6px;text-align:center;-webkit-text-stroke:.4px">2025-10-30 12:53</div>
<svg class="a" style="left:667px;top:616px" width="73" height="33" viewBox="0 0 73 33"><g fill="none" stroke="#8a90a0" stroke-width="1.2"><circle cx="16.2" cy="16.6" r="15"/><circle cx="56" cy="16.6" r="15"/></g><g fill="#8a90a0"><rect x="10.7" y="11.1" width="2.2" height="11"/><path d="M21.2 11.1v11l-8-5.5z"/><rect x="59.1" y="11.1" width="2.2" height="11"/><path d="M51 11.1v11l8-5.5z"/></g></svg>
<svg class="a" style="left:1434.5px;top:89px" width="20" height="20" viewBox="0 0 20 20"><circle cx="10" cy="10" r="10" fill="#eebc3e"/><g fill="#fffdf0"><path d="M7.9 6.3h4.2l.6 3.5H7.3z"/><path d="M4.6 11.1h4l.6 3.3H4z"/><path d="M11.4 11.1h4l.6 3.3h-5.2z"/></g></svg>
<div class="a o" style="left:1461px;top:86px;height:26px;line-height:26px;font-size:18.7px">现货黄金</div>
<div class="a gy" style="left:1544px;top:86px;height:26px;line-height:26px;font-size:17.4px">XAUUSD</div>
<div class="a r" style="left:1436px;top:119px;height:46px;line-height:46px;font-size:40px;font-weight:bold;transform-origin:0 50%;transform:scaleX(.924)">3959.52</div>
<div class="a r" style="left:1581.5px;top:125px;height:16px;line-height:16px;font-size:16px;font-weight:bold">+30.54</div>
<div class="a r" style="left:1581.5px;top:140.5px;height:16px;line-height:16px;font-size:16px;font-weight:bold">+0.78%</div>
<div class="a gy" style="left:1436px;top:172.7px;height:20px;line-height:20px;font-size:14.7px">最后更新:13:18:03</div>
<div class="a o" style="left:1440px;top:206px;height:26px;line-height:26px;font-size:18.5px;font-weight:bold">报价</div>
<div class="a" style="left:1440px;top:242px;width:37px;height:3px;background:#f5793b"></div>
<div class="a" style="left:1435px;top:245px;width:256px;height:1px;background:#2a3342"></div>
<div class="a" style="left:1435.2px;top:263.2px;height:22px;line-height:22px;font-size:15.5px;color:#a4a9b6">昨收</div>
<div class="a w" style="left:1546px;top:263.5px;height:22px;line-height:22px;font-size:16.2px">3928.98</div>
<div class="a" style="left:1645.7px;top:263.5px;height:22px;line-height:22px;font-size:15.5px;color:#a4a9b6">最高</div>
<div class="a" style="left:1435.2px;top:290.7px;height:22px;line-height:22px;font-size:15.5px;color:#a4a9b6">开盘</div>
<div class="a g" style="left:1546px;top:291.0px;height:22px;line-height:22px;font-size:16.2px">3927.05</div>
<div class="a" style="left:1645.7px;top:291.0px;height:22px;line-height:22px;font-size:15.5px;color:#a4a9b6">最低</div>
<div class="a" style="left:1435.2px;top:317.7px;height:22px;line-height:22px;font-size:15.5px;color:#a4a9b6">买入</div>
<div class="a w" style="left:1546px;top:318.0px;height:22px;line-height:22px;font-size:16.2px">3959.52</div>
<div class="a" style="left:1645.7px;top:318.0px;height:22px;line-height:22px;font-size:15.5px;color:#a4a9b6">卖出</div>
<div class="a" style="left:1624.5px;top:259px;width:1px;height:83px;background:#2a3342"></div>
<div class="a" style="left:1435px;top:367px;width:256px;height:1px;background:#2f3a4a"></div>
<div class="a w" style="left:1436px;top:384px;height:24px;line-height:24px;font-size:16px;font-weight:bold">交易明细</div>
<div class="a" style="left:1435px;top:413px;height:20px;line-height:20px;font-size:14.5px;color:#a4a9b6">时间</div>
<div class="a" style="left:1610.3px;top:413px;height:20px;line-height:20px;font-size:14.5px;color:#a4a9b6">价格</div>
<div class="a tr" style="top:444.2px">13:18:03</div><div class="a tp" style="top:444.2px">3959.52</div>
<div class="a tr" style="top:464.2px">13:18:00</div><div class="a tp" style="top:464.2px">3959.65</div>
<div class="a tr" style="top:484.2px">13:17:58</div><div class="a tp" style="top:484.2px">3959.82</div>
<div class="a tr" style="top:504.3px">13:17:57</div><div class="a tp" style="top:504.3px">3959.74</div>
<div class="a tr" style="top:524.3px">13:17:56</div><div class="a tp" style="top:524.3px">3959.90</div>
<div class="a tr" style="top:544.3px">13:17:55</div><div class="a tp" style="top:544.3px">3959.74</div>
<div class="a tr" style="top:564.3px">13:17:53</div><div class="a tp" style="top:564.3px">3959.68</div>
<div class="a tr" style="top:584.3px">13:17:51</div><div class="a tp" style="top:584.3px">3960.06</div>
<div class="a tr" style="top:604.4px">13:17:49</div><div class="a tp" style="top:604.4px">3960.48</div>
<div class="a tr" style="top:624.4px">13:17:47</div><div class="a tp" style="top:624.4px">3960.28</div>
<div class="a tr" style="top:644.4px">13:17:46</div><div class="a tp" style="top:644.4px">3960.52</div>
<div class="a tr" style="top:664.4px">13:17:45</div><div class="a tp" style="top:664.4px">3961.02</div>
<div class="a tr" style="top:684.4px">13:17:44</div><div class="a tp" style="top:684.4px">3960.76</div>
</div></body></html>
